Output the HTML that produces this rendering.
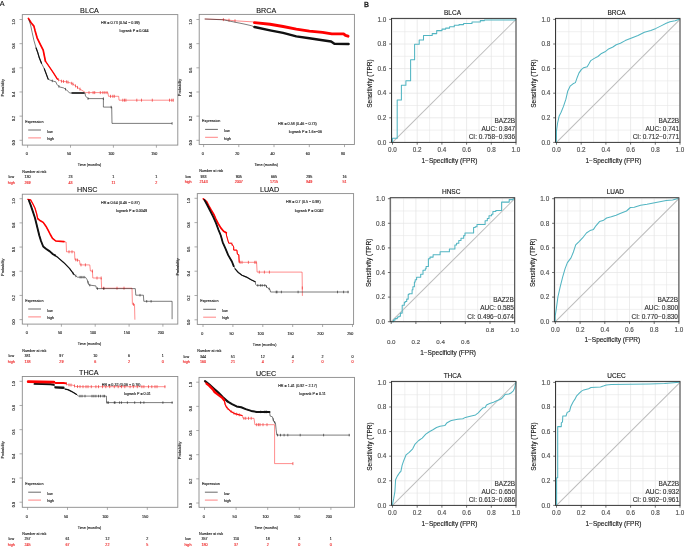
<!DOCTYPE html>
<html><head><meta charset="utf-8"><title>Figure</title>
<style>
html,body{margin:0;padding:0;background:#fff;width:685px;height:547px;overflow:hidden}
svg{display:block;font-family:"Liberation Sans", sans-serif;will-change:transform}
</style></head>
<body>
<svg width="685" height="547" viewBox="0 0 685 547">
<rect width="685" height="547" fill="#fff"/>
<text x="89.5" y="13" font-size="7.2" text-anchor="middle" fill="#111" stroke="#111" stroke-width="0.1">BLCA</text>
<rect x="22.3" y="14.6" width="155.5" height="130.5" fill="none" stroke="#8a8a8a" stroke-width="0.9"/>
<line x1="19.5" y1="140.3" x2="22.3" y2="140.3" stroke="#8a8a8a" stroke-width="0.7"/>
<text transform="translate(15.32 142.7) rotate(-90)" font-size="3.7" text-anchor="middle" fill="#1a1a1a" stroke="#1a1a1a" stroke-width="0.12">0.0</text>
<line x1="19.5" y1="116.14" x2="22.3" y2="116.14" stroke="#8a8a8a" stroke-width="0.7"/>
<text transform="translate(15.32 118.54) rotate(-90)" font-size="3.7" text-anchor="middle" fill="#1a1a1a" stroke="#1a1a1a" stroke-width="0.12">0.2</text>
<line x1="19.5" y1="91.98" x2="22.3" y2="91.98" stroke="#8a8a8a" stroke-width="0.7"/>
<text transform="translate(15.32 94.38) rotate(-90)" font-size="3.7" text-anchor="middle" fill="#1a1a1a" stroke="#1a1a1a" stroke-width="0.12">0.4</text>
<line x1="19.5" y1="67.82" x2="22.3" y2="67.82" stroke="#8a8a8a" stroke-width="0.7"/>
<text transform="translate(15.32 70.22) rotate(-90)" font-size="3.7" text-anchor="middle" fill="#1a1a1a" stroke="#1a1a1a" stroke-width="0.12">0.6</text>
<line x1="19.5" y1="43.66" x2="22.3" y2="43.66" stroke="#8a8a8a" stroke-width="0.7"/>
<text transform="translate(15.32 46.06) rotate(-90)" font-size="3.7" text-anchor="middle" fill="#1a1a1a" stroke="#1a1a1a" stroke-width="0.12">0.8</text>
<line x1="19.5" y1="19.5" x2="22.3" y2="19.5" stroke="#8a8a8a" stroke-width="0.7"/>
<text transform="translate(15.32 21.9) rotate(-90)" font-size="3.7" text-anchor="middle" fill="#1a1a1a" stroke="#1a1a1a" stroke-width="0.12">1.0</text>
<text transform="translate(4.12 87.85) rotate(-90)" font-size="3.7" text-anchor="middle" fill="#1a1a1a" stroke="#1a1a1a" stroke-width="0.12">Probability</text>
<line x1="27.6" y1="145.1" x2="27.6" y2="147.7" stroke="#8a8a8a" stroke-width="0.7"/>
<text x="26.88" y="155.42" font-size="3.7" text-anchor="middle" fill="#1a1a1a" stroke="#1a1a1a" stroke-width="0.12">0</text>
<line x1="70.5" y1="145.1" x2="70.5" y2="147.7" stroke="#8a8a8a" stroke-width="0.7"/>
<text x="69.06" y="155.42" font-size="3.7" text-anchor="middle" fill="#1a1a1a" stroke="#1a1a1a" stroke-width="0.12">50</text>
<line x1="113.4" y1="145.1" x2="113.4" y2="147.7" stroke="#8a8a8a" stroke-width="0.7"/>
<text x="111.24" y="155.42" font-size="3.7" text-anchor="middle" fill="#1a1a1a" stroke="#1a1a1a" stroke-width="0.12">100</text>
<line x1="156.4" y1="145.1" x2="156.4" y2="147.7" stroke="#8a8a8a" stroke-width="0.7"/>
<text x="154.24" y="155.42" font-size="3.7" text-anchor="middle" fill="#1a1a1a" stroke="#1a1a1a" stroke-width="0.12">150</text>
<text x="89.45" y="166.42" font-size="3.7" text-anchor="middle" fill="#1a1a1a" stroke="#1a1a1a" stroke-width="0.12">Time (months)</text>
<text x="101" y="24.02" font-size="3.7" fill="#1a1a1a" stroke="#1a1a1a" stroke-width="0.12">HR = 0.73 (0.54 − 0.99)</text>
<text x="119.6" y="32.32" font-size="3.7" fill="#1a1a1a" stroke="#1a1a1a" stroke-width="0.12">logrank P = 0.044</text>
<text x="25.2" y="122.72" font-size="3.7" fill="#1a1a1a" stroke="#1a1a1a" stroke-width="0.12">Expression</text>
<line x1="28.2" y1="130" x2="41" y2="130" stroke="#444" stroke-width="0.8"/>
<line x1="28.2" y1="137.9" x2="41" y2="137.9" stroke="#f66" stroke-width="0.8"/>
<text x="47.2" y="132.62" font-size="3.7" fill="#1a1a1a" stroke="#1a1a1a" stroke-width="0.12">low</text>
<text x="47.2" y="140.12" font-size="3.7" fill="#1a1a1a" stroke="#1a1a1a" stroke-width="0.12">high</text>
<text x="22.3" y="172.62" font-size="3.7" fill="#1a1a1a" stroke="#1a1a1a" stroke-width="0.12">Number at risk</text>
<text x="11.3" y="178.22" font-size="3.7" text-anchor="middle" fill="#1a1a1a" stroke="#1a1a1a" stroke-width="0.12">low</text>
<text x="11.3" y="183.92" font-size="3.7" text-anchor="middle" fill="#e22" stroke="#e22" stroke-width="0.12">high</text>
<text x="27.6" y="178.22" font-size="3.7" text-anchor="middle" fill="#1a1a1a" stroke="#1a1a1a" stroke-width="0.12">130</text>
<text x="27.6" y="183.92" font-size="3.7" text-anchor="middle" fill="#e22" stroke="#e22" stroke-width="0.12">269</text>
<text x="70.5" y="178.22" font-size="3.7" text-anchor="middle" fill="#1a1a1a" stroke="#1a1a1a" stroke-width="0.12">23</text>
<text x="70.5" y="183.92" font-size="3.7" text-anchor="middle" fill="#e22" stroke="#e22" stroke-width="0.12">43</text>
<text x="113.4" y="178.22" font-size="3.7" text-anchor="middle" fill="#1a1a1a" stroke="#1a1a1a" stroke-width="0.12">1</text>
<text x="113.4" y="183.92" font-size="3.7" text-anchor="middle" fill="#e22" stroke="#e22" stroke-width="0.12">11</text>
<text x="156.4" y="178.22" font-size="3.7" text-anchor="middle" fill="#1a1a1a" stroke="#1a1a1a" stroke-width="0.12">1</text>
<text x="156.4" y="183.92" font-size="3.7" text-anchor="middle" fill="#e22" stroke="#e22" stroke-width="0.12">2</text>
<polyline points="28.4,18.4 31.1,22.8 33.9,26.1 35,30.4 37.2,38.1 40.4,44.7 43.2,50.2 44.3,55.6 45.4,61.1 49.2,66.6 53.6,73.2 57.4,79.2 61.5,81.2 66.6,81.8 71.7,83.3 74.7,85.3 78.8,88.4 82.9,90.9 85.5,92.6 107.9,92.6 108.5,96.3 118.7,96.3 119,100.2 173.3,100.2" fill="none" stroke="#f00" stroke-width="0.45" stroke-linejoin="round" />
<polyline points="28.4,18.4 31.1,22.8 33.9,26.1 35,30.4 37.2,38.1 40.4,44.7 43.2,50.2 44.3,55.6 45.4,61.1" fill="none" stroke="#f00" stroke-width="1.7" stroke-linejoin="round" stroke-linecap="round"/>
<polyline points="45.4,61.1 49.2,66.6 53.6,73.2 57.4,79.2" fill="none" stroke="#f00" stroke-width="1.3" stroke-linejoin="round" stroke-linecap="round"/>
<line x1="58.5" y1="78.24" x2="58.5" y2="81.24" stroke="#e33" stroke-width="0.7"/>
<line x1="61.5" y1="79.7" x2="61.5" y2="82.7" stroke="#e33" stroke-width="0.7"/>
<line x1="63.5" y1="79.94" x2="63.5" y2="82.94" stroke="#e33" stroke-width="0.7"/>
<line x1="66.6" y1="80.3" x2="66.6" y2="83.3" stroke="#e33" stroke-width="0.7"/>
<line x1="68" y1="80.71" x2="68" y2="83.71" stroke="#e33" stroke-width="0.7"/>
<line x1="71.7" y1="81.8" x2="71.7" y2="84.8" stroke="#e33" stroke-width="0.7"/>
<line x1="73" y1="82.67" x2="73" y2="85.67" stroke="#e33" stroke-width="0.7"/>
<line x1="75.5" y1="84.4" x2="75.5" y2="87.4" stroke="#e33" stroke-width="0.7"/>
<line x1="77.5" y1="85.92" x2="77.5" y2="88.92" stroke="#e33" stroke-width="0.7"/>
<line x1="80" y1="87.63" x2="80" y2="90.63" stroke="#e33" stroke-width="0.7"/>
<line x1="89" y1="91.1" x2="89" y2="94.1" stroke="#e33" stroke-width="0.7"/>
<line x1="93.1" y1="91.1" x2="93.1" y2="94.1" stroke="#e33" stroke-width="0.7"/>
<line x1="94.7" y1="91.1" x2="94.7" y2="94.1" stroke="#e33" stroke-width="0.7"/>
<line x1="100.3" y1="91.1" x2="100.3" y2="94.1" stroke="#e33" stroke-width="0.7"/>
<line x1="102.9" y1="91.1" x2="102.9" y2="94.1" stroke="#e33" stroke-width="0.7"/>
<line x1="104.9" y1="91.1" x2="104.9" y2="94.1" stroke="#e33" stroke-width="0.7"/>
<line x1="107" y1="91.1" x2="107" y2="94.1" stroke="#e33" stroke-width="0.7"/>
<line x1="110.5" y1="94.8" x2="110.5" y2="97.8" stroke="#e33" stroke-width="0.7"/>
<line x1="112.8" y1="94.8" x2="112.8" y2="97.8" stroke="#e33" stroke-width="0.7"/>
<line x1="114.3" y1="94.8" x2="114.3" y2="97.8" stroke="#e33" stroke-width="0.7"/>
<line x1="122.8" y1="98.7" x2="122.8" y2="101.7" stroke="#e33" stroke-width="0.7"/>
<line x1="124.5" y1="98.7" x2="124.5" y2="101.7" stroke="#e33" stroke-width="0.7"/>
<line x1="125.9" y1="98.7" x2="125.9" y2="101.7" stroke="#e33" stroke-width="0.7"/>
<line x1="136.8" y1="98.7" x2="136.8" y2="101.7" stroke="#e33" stroke-width="0.7"/>
<line x1="141.5" y1="98.7" x2="141.5" y2="101.7" stroke="#e33" stroke-width="0.7"/>
<line x1="152.3" y1="98.7" x2="152.3" y2="101.7" stroke="#e33" stroke-width="0.7"/>
<line x1="169.5" y1="98.7" x2="169.5" y2="101.7" stroke="#e33" stroke-width="0.7"/>
<line x1="171.8" y1="98.7" x2="171.8" y2="101.7" stroke="#e33" stroke-width="0.7"/>
<line x1="173.3" y1="98.7" x2="173.3" y2="101.7" stroke="#e33" stroke-width="0.7"/>
<polyline points="28.8,19.5 30.6,25 32.2,32.6 33.9,40.3 36.1,48 37.7,52.4 39.3,57.8 41.5,63.3 44.3,68.8 45.5,72 48.2,79.2 50.2,80.2 53.3,81.2 55.8,81.8 56.9,84.3 59.4,86.9 63.5,87.9 66.6,89.9 69.6,93 85,93 85.5,96 88,98.6 103.4,98.6 103.4,107.1 111.7,107.1 112,123.4 172.1,123.4" fill="none" stroke="#111" stroke-width="0.55" stroke-linejoin="round" />
<polyline points="36.1,48 37.7,52.4 39.3,57.8 41.5,63.3" fill="none" stroke="#111" stroke-width="1.2" stroke-linejoin="round" stroke-linecap="round"/>
<polyline points="44.3,68.8 45.5,72 48.2,79.2" fill="none" stroke="#111" stroke-width="1.1" stroke-linejoin="round" stroke-linecap="round"/>
<polyline points="72,93 84,93" fill="none" stroke="#111" stroke-width="1.4" stroke-linejoin="round" stroke-linecap="round"/>
<line x1="52.3" y1="79.58" x2="52.3" y2="82.18" stroke="#111" stroke-width="0.55"/>
<line x1="58.9" y1="85.08" x2="58.9" y2="87.68" stroke="#111" stroke-width="0.55"/>
<line x1="65.5" y1="87.89" x2="65.5" y2="90.49" stroke="#111" stroke-width="0.55"/>
<line x1="88" y1="97.3" x2="88" y2="99.9" stroke="#111" stroke-width="0.55"/>
<line x1="103.4" y1="97.3" x2="103.4" y2="99.9" stroke="#111" stroke-width="0.55"/>
<line x1="111.2" y1="105.8" x2="111.2" y2="108.4" stroke="#111" stroke-width="0.55"/>
<line x1="172.1" y1="122.1" x2="172.1" y2="124.7" stroke="#111" stroke-width="0.55"/>
<text x="266.3" y="13" font-size="7.2" text-anchor="middle" fill="#111" stroke="#111" stroke-width="0.1">BRCA</text>
<rect x="199.2" y="14.4" width="155.2" height="130.1" fill="none" stroke="#8a8a8a" stroke-width="0.9"/>
<line x1="196.4" y1="140.3" x2="199.2" y2="140.3" stroke="#8a8a8a" stroke-width="0.7"/>
<text transform="translate(192.22 142.7) rotate(-90)" font-size="3.7" text-anchor="middle" fill="#1a1a1a" stroke="#1a1a1a" stroke-width="0.12">0.0</text>
<line x1="196.4" y1="116.14" x2="199.2" y2="116.14" stroke="#8a8a8a" stroke-width="0.7"/>
<text transform="translate(192.22 118.54) rotate(-90)" font-size="3.7" text-anchor="middle" fill="#1a1a1a" stroke="#1a1a1a" stroke-width="0.12">0.2</text>
<line x1="196.4" y1="91.98" x2="199.2" y2="91.98" stroke="#8a8a8a" stroke-width="0.7"/>
<text transform="translate(192.22 94.38) rotate(-90)" font-size="3.7" text-anchor="middle" fill="#1a1a1a" stroke="#1a1a1a" stroke-width="0.12">0.4</text>
<line x1="196.4" y1="67.82" x2="199.2" y2="67.82" stroke="#8a8a8a" stroke-width="0.7"/>
<text transform="translate(192.22 70.22) rotate(-90)" font-size="3.7" text-anchor="middle" fill="#1a1a1a" stroke="#1a1a1a" stroke-width="0.12">0.6</text>
<line x1="196.4" y1="43.66" x2="199.2" y2="43.66" stroke="#8a8a8a" stroke-width="0.7"/>
<text transform="translate(192.22 46.06) rotate(-90)" font-size="3.7" text-anchor="middle" fill="#1a1a1a" stroke="#1a1a1a" stroke-width="0.12">0.8</text>
<line x1="196.4" y1="19.5" x2="199.2" y2="19.5" stroke="#8a8a8a" stroke-width="0.7"/>
<text transform="translate(192.22 21.9) rotate(-90)" font-size="3.7" text-anchor="middle" fill="#1a1a1a" stroke="#1a1a1a" stroke-width="0.12">1.0</text>
<text transform="translate(181.02 87.45) rotate(-90)" font-size="3.7" text-anchor="middle" fill="#1a1a1a" stroke="#1a1a1a" stroke-width="0.12">Probability</text>
<line x1="203.6" y1="144.5" x2="203.6" y2="147.1" stroke="#8a8a8a" stroke-width="0.7"/>
<text x="202.88" y="154.82" font-size="3.7" text-anchor="middle" fill="#1a1a1a" stroke="#1a1a1a" stroke-width="0.12">0</text>
<line x1="238.8" y1="144.5" x2="238.8" y2="147.1" stroke="#8a8a8a" stroke-width="0.7"/>
<text x="237.36" y="154.82" font-size="3.7" text-anchor="middle" fill="#1a1a1a" stroke="#1a1a1a" stroke-width="0.12">20</text>
<line x1="274" y1="144.5" x2="274" y2="147.1" stroke="#8a8a8a" stroke-width="0.7"/>
<text x="272.56" y="154.82" font-size="3.7" text-anchor="middle" fill="#1a1a1a" stroke="#1a1a1a" stroke-width="0.12">40</text>
<line x1="309.3" y1="144.5" x2="309.3" y2="147.1" stroke="#8a8a8a" stroke-width="0.7"/>
<text x="307.86" y="154.82" font-size="3.7" text-anchor="middle" fill="#1a1a1a" stroke="#1a1a1a" stroke-width="0.12">60</text>
<line x1="344.5" y1="144.5" x2="344.5" y2="147.1" stroke="#8a8a8a" stroke-width="0.7"/>
<text x="343.06" y="154.82" font-size="3.7" text-anchor="middle" fill="#1a1a1a" stroke="#1a1a1a" stroke-width="0.12">80</text>
<text x="266.2" y="165.82" font-size="3.7" text-anchor="middle" fill="#1a1a1a" stroke="#1a1a1a" stroke-width="0.12">Time (months)</text>
<text x="278.1" y="124.82" font-size="3.7" fill="#1a1a1a" stroke="#1a1a1a" stroke-width="0.12">HR = 0.58 (0.46 − 0.73)</text>
<text x="288.8" y="132.92" font-size="3.7" fill="#1a1a1a" stroke="#1a1a1a" stroke-width="0.12">logrank P = 1.6e−06</text>
<text x="202.1" y="122.12" font-size="3.7" fill="#1a1a1a" stroke="#1a1a1a" stroke-width="0.12">Expression</text>
<line x1="205.1" y1="129.4" x2="217.9" y2="129.4" stroke="#444" stroke-width="0.8"/>
<line x1="205.1" y1="137.3" x2="217.9" y2="137.3" stroke="#f66" stroke-width="0.8"/>
<text x="224.1" y="132.02" font-size="3.7" fill="#1a1a1a" stroke="#1a1a1a" stroke-width="0.12">low</text>
<text x="224.1" y="139.52" font-size="3.7" fill="#1a1a1a" stroke="#1a1a1a" stroke-width="0.12">high</text>
<text x="199.2" y="172.02" font-size="3.7" fill="#1a1a1a" stroke="#1a1a1a" stroke-width="0.12">Number at risk</text>
<text x="188.2" y="177.62" font-size="3.7" text-anchor="middle" fill="#1a1a1a" stroke="#1a1a1a" stroke-width="0.12">low</text>
<text x="188.2" y="183.32" font-size="3.7" text-anchor="middle" fill="#e22" stroke="#e22" stroke-width="0.12">high</text>
<text x="203.6" y="177.62" font-size="3.7" text-anchor="middle" fill="#1a1a1a" stroke="#1a1a1a" stroke-width="0.12">933</text>
<text x="203.6" y="183.32" font-size="3.7" text-anchor="middle" fill="#e22" stroke="#e22" stroke-width="0.12">2143</text>
<text x="238.8" y="177.62" font-size="3.7" text-anchor="middle" fill="#1a1a1a" stroke="#1a1a1a" stroke-width="0.12">905</text>
<text x="238.8" y="183.32" font-size="3.7" text-anchor="middle" fill="#e22" stroke="#e22" stroke-width="0.12">2007</text>
<text x="274" y="177.62" font-size="3.7" text-anchor="middle" fill="#1a1a1a" stroke="#1a1a1a" stroke-width="0.12">665</text>
<text x="274" y="183.32" font-size="3.7" text-anchor="middle" fill="#e22" stroke="#e22" stroke-width="0.12">1715</text>
<text x="309.3" y="177.62" font-size="3.7" text-anchor="middle" fill="#1a1a1a" stroke="#1a1a1a" stroke-width="0.12">295</text>
<text x="309.3" y="183.32" font-size="3.7" text-anchor="middle" fill="#e22" stroke="#e22" stroke-width="0.12">849</text>
<text x="344.5" y="177.62" font-size="3.7" text-anchor="middle" fill="#1a1a1a" stroke="#1a1a1a" stroke-width="0.12">16</text>
<text x="344.5" y="183.32" font-size="3.7" text-anchor="middle" fill="#e22" stroke="#e22" stroke-width="0.12">51</text>
<polyline points="204.7,19 223.4,19.6 235,20.8 253.1,21.9 254.5,22.6 270,24.2 283.1,26.5 296.3,29.1 309.4,31.1 322.6,32.4 331.8,33.9 343.6,33.9 345.5,35.4 348,36.2" fill="none" stroke="#f00" stroke-width="0.45" stroke-linejoin="round" />
<polyline points="254.5,22.6 270,24.2 283.1,26.5 296.3,29.1 309.4,31.1 322.6,32.4 331.8,33.9 343.6,33.9 345.5,35.4 348,36.2" fill="none" stroke="#f00" stroke-width="2.9" stroke-linejoin="round" stroke-linecap="round"/>
<line x1="223.4" y1="18.1" x2="223.4" y2="21.1" stroke="#e33" stroke-width="0.7"/>
<line x1="229" y1="18.68" x2="229" y2="21.68" stroke="#e33" stroke-width="0.7"/>
<line x1="235" y1="19.3" x2="235" y2="22.3" stroke="#e33" stroke-width="0.7"/>
<polyline points="204.7,19 223.4,19.8 235,22.2 244,24 251.4,25.7 254.5,27 270,30.3 283.1,32.9 296.3,36.4 309.4,38.2 322.6,40.2 331.1,41.5 334.4,43.8 348.6,44" fill="none" stroke="#111" stroke-width="0.55" stroke-linejoin="round" />
<polyline points="254.5,27 270,30.3 283.1,32.9 296.3,36.4 309.4,38.2 322.6,40.2 331.1,41.5 334.4,43.8 348.6,44" fill="none" stroke="#111" stroke-width="2.4" stroke-linejoin="round" stroke-linecap="round"/>
<text x="87.2" y="192.3" font-size="7.2" text-anchor="middle" fill="#111" stroke="#111" stroke-width="0.1">HNSC</text>
<rect x="22.3" y="194.2" width="155.5" height="129.9" fill="none" stroke="#8a8a8a" stroke-width="0.9"/>
<line x1="19.5" y1="319.6" x2="22.3" y2="319.6" stroke="#8a8a8a" stroke-width="0.7"/>
<text transform="translate(15.32 322) rotate(-90)" font-size="3.7" text-anchor="middle" fill="#1a1a1a" stroke="#1a1a1a" stroke-width="0.12">0.0</text>
<line x1="19.5" y1="295.42" x2="22.3" y2="295.42" stroke="#8a8a8a" stroke-width="0.7"/>
<text transform="translate(15.32 297.82) rotate(-90)" font-size="3.7" text-anchor="middle" fill="#1a1a1a" stroke="#1a1a1a" stroke-width="0.12">0.2</text>
<line x1="19.5" y1="271.24" x2="22.3" y2="271.24" stroke="#8a8a8a" stroke-width="0.7"/>
<text transform="translate(15.32 273.64) rotate(-90)" font-size="3.7" text-anchor="middle" fill="#1a1a1a" stroke="#1a1a1a" stroke-width="0.12">0.4</text>
<line x1="19.5" y1="247.06" x2="22.3" y2="247.06" stroke="#8a8a8a" stroke-width="0.7"/>
<text transform="translate(15.32 249.46) rotate(-90)" font-size="3.7" text-anchor="middle" fill="#1a1a1a" stroke="#1a1a1a" stroke-width="0.12">0.6</text>
<line x1="19.5" y1="222.88" x2="22.3" y2="222.88" stroke="#8a8a8a" stroke-width="0.7"/>
<text transform="translate(15.32 225.28) rotate(-90)" font-size="3.7" text-anchor="middle" fill="#1a1a1a" stroke="#1a1a1a" stroke-width="0.12">0.8</text>
<line x1="19.5" y1="198.7" x2="22.3" y2="198.7" stroke="#8a8a8a" stroke-width="0.7"/>
<text transform="translate(15.32 201.1) rotate(-90)" font-size="3.7" text-anchor="middle" fill="#1a1a1a" stroke="#1a1a1a" stroke-width="0.12">1.0</text>
<text transform="translate(4.12 267.15) rotate(-90)" font-size="3.7" text-anchor="middle" fill="#1a1a1a" stroke="#1a1a1a" stroke-width="0.12">Probability</text>
<line x1="27.6" y1="324.1" x2="27.6" y2="326.7" stroke="#8a8a8a" stroke-width="0.7"/>
<text x="26.88" y="334.42" font-size="3.7" text-anchor="middle" fill="#1a1a1a" stroke="#1a1a1a" stroke-width="0.12">0</text>
<line x1="61.4" y1="324.1" x2="61.4" y2="326.7" stroke="#8a8a8a" stroke-width="0.7"/>
<text x="59.96" y="334.42" font-size="3.7" text-anchor="middle" fill="#1a1a1a" stroke="#1a1a1a" stroke-width="0.12">50</text>
<line x1="95.2" y1="324.1" x2="95.2" y2="326.7" stroke="#8a8a8a" stroke-width="0.7"/>
<text x="93.04" y="334.42" font-size="3.7" text-anchor="middle" fill="#1a1a1a" stroke="#1a1a1a" stroke-width="0.12">100</text>
<line x1="129.1" y1="324.1" x2="129.1" y2="326.7" stroke="#8a8a8a" stroke-width="0.7"/>
<text x="126.94" y="334.42" font-size="3.7" text-anchor="middle" fill="#1a1a1a" stroke="#1a1a1a" stroke-width="0.12">150</text>
<line x1="162.9" y1="324.1" x2="162.9" y2="326.7" stroke="#8a8a8a" stroke-width="0.7"/>
<text x="160.74" y="334.42" font-size="3.7" text-anchor="middle" fill="#1a1a1a" stroke="#1a1a1a" stroke-width="0.12">200</text>
<text x="89.45" y="345.42" font-size="3.7" text-anchor="middle" fill="#1a1a1a" stroke="#1a1a1a" stroke-width="0.12">Time (months)</text>
<text x="101" y="203.52" font-size="3.7" fill="#1a1a1a" stroke="#1a1a1a" stroke-width="0.12">HR = 0.64 (0.46 − 0.87)</text>
<text x="116" y="211.92" font-size="3.7" fill="#1a1a1a" stroke="#1a1a1a" stroke-width="0.12">logrank P = 0.0049</text>
<text x="25.2" y="301.72" font-size="3.7" fill="#1a1a1a" stroke="#1a1a1a" stroke-width="0.12">Expression</text>
<line x1="28.2" y1="309" x2="41" y2="309" stroke="#444" stroke-width="0.8"/>
<line x1="28.2" y1="316.9" x2="41" y2="316.9" stroke="#f66" stroke-width="0.8"/>
<text x="47.2" y="311.62" font-size="3.7" fill="#1a1a1a" stroke="#1a1a1a" stroke-width="0.12">low</text>
<text x="47.2" y="319.12" font-size="3.7" fill="#1a1a1a" stroke="#1a1a1a" stroke-width="0.12">high</text>
<text x="22.3" y="351.62" font-size="3.7" fill="#1a1a1a" stroke="#1a1a1a" stroke-width="0.12">Number at risk</text>
<text x="11.3" y="357.22" font-size="3.7" text-anchor="middle" fill="#1a1a1a" stroke="#1a1a1a" stroke-width="0.12">low</text>
<text x="11.3" y="362.92" font-size="3.7" text-anchor="middle" fill="#e22" stroke="#e22" stroke-width="0.12">high</text>
<text x="27.6" y="357.22" font-size="3.7" text-anchor="middle" fill="#1a1a1a" stroke="#1a1a1a" stroke-width="0.12">381</text>
<text x="27.6" y="362.92" font-size="3.7" text-anchor="middle" fill="#e22" stroke="#e22" stroke-width="0.12">138</text>
<text x="61.4" y="357.22" font-size="3.7" text-anchor="middle" fill="#1a1a1a" stroke="#1a1a1a" stroke-width="0.12">97</text>
<text x="61.4" y="362.92" font-size="3.7" text-anchor="middle" fill="#e22" stroke="#e22" stroke-width="0.12">29</text>
<text x="95.2" y="357.22" font-size="3.7" text-anchor="middle" fill="#1a1a1a" stroke="#1a1a1a" stroke-width="0.12">10</text>
<text x="95.2" y="362.92" font-size="3.7" text-anchor="middle" fill="#e22" stroke="#e22" stroke-width="0.12">6</text>
<text x="129.1" y="357.22" font-size="3.7" text-anchor="middle" fill="#1a1a1a" stroke="#1a1a1a" stroke-width="0.12">6</text>
<text x="129.1" y="362.92" font-size="3.7" text-anchor="middle" fill="#e22" stroke="#e22" stroke-width="0.12">2</text>
<text x="162.9" y="357.22" font-size="3.7" text-anchor="middle" fill="#1a1a1a" stroke="#1a1a1a" stroke-width="0.12">1</text>
<text x="162.9" y="362.92" font-size="3.7" text-anchor="middle" fill="#e22" stroke="#e22" stroke-width="0.12">0</text>
<polyline points="27.8,199.4 30.6,199.9 32.8,203.8 35,208.2 36.6,213.6 37.7,218.6 40.4,220.8 43.2,222.4 45.9,226.2 48.1,230.1 50.3,234.5 52.5,238.3 55.8,241 64,241.6 66.1,242 66.5,251.8 74.5,251.8 74.9,259.6 79.5,260.5 80.1,264.9 89.8,264.9 90.4,271 92.4,271 92.8,278 101.2,278 101.6,288.2 132,288.2 132.4,304.3 134.5,304.3 134.9,319.7" fill="none" stroke="#f00" stroke-width="0.45" stroke-linejoin="round" />
<polyline points="27.8,199.4 30.6,199.9 32.8,203.8 35,208.2 36.6,213.6 37.7,218.6" fill="none" stroke="#f00" stroke-width="1.3" stroke-linejoin="round" stroke-linecap="round"/>
<polyline points="37.7,218.6 40.4,220.8 43.2,222.4 45.9,226.2 48.1,230.1 50.3,234.5 52.5,238.3 55.8,241 64,241.6" fill="none" stroke="#f00" stroke-width="1.6" stroke-linejoin="round" stroke-linecap="round"/>
<line x1="69" y1="250.3" x2="69" y2="253.3" stroke="#e33" stroke-width="0.7"/>
<line x1="72" y1="250.3" x2="72" y2="253.3" stroke="#e33" stroke-width="0.7"/>
<line x1="75.8" y1="258.28" x2="75.8" y2="261.28" stroke="#e33" stroke-width="0.7"/>
<line x1="77.5" y1="258.61" x2="77.5" y2="261.61" stroke="#e33" stroke-width="0.7"/>
<line x1="81" y1="263.4" x2="81" y2="266.4" stroke="#e33" stroke-width="0.7"/>
<line x1="85.4" y1="263.4" x2="85.4" y2="266.4" stroke="#e33" stroke-width="0.7"/>
<line x1="92.4" y1="269.5" x2="92.4" y2="272.5" stroke="#e33" stroke-width="0.7"/>
<line x1="97" y1="276.5" x2="97" y2="279.5" stroke="#e33" stroke-width="0.7"/>
<line x1="101.2" y1="276.5" x2="101.2" y2="279.5" stroke="#e33" stroke-width="0.7"/>
<line x1="103.8" y1="286.7" x2="103.8" y2="289.7" stroke="#e33" stroke-width="0.7"/>
<line x1="117" y1="286.7" x2="117" y2="289.7" stroke="#e33" stroke-width="0.7"/>
<line x1="124" y1="286.7" x2="124" y2="289.7" stroke="#e33" stroke-width="0.7"/>
<line x1="133.5" y1="302.8" x2="133.5" y2="305.8" stroke="#e33" stroke-width="0.7"/>
<polyline points="28.9,200.5 30.6,204.9 32.8,211.4 35,218 36.1,222.4 37.7,229 39.3,235.5 41,241 43.2,246.5 45.9,248.7 49.8,251.4 53,254.2 55.1,255.4 58,257.6 63.9,262.7 69.7,268.6 74,274.5 77.5,277.2 85.4,277.2 87.2,279.8 88.9,285 95.9,285.9 96.5,288.6 102,288.6 135.3,288.6 135.8,295.2 143.4,295.2 143.8,301.3 172.1,301.3 172.1,319.2" fill="none" stroke="#111" stroke-width="0.55" stroke-linejoin="round" />
<polyline points="28.9,200.5 30.6,204.9 32.8,211.4 35,218 36.1,222.4 37.7,229 39.3,235.5 41,241 43.2,246.5 45.9,248.7 49.8,251.4 53,254.2 55.1,255.4" fill="none" stroke="#111" stroke-width="1.9" stroke-linejoin="round" stroke-linecap="round"/>
<polyline points="55.1,255.4 58,257.6 63.9,262.7 69.7,268.6 74,274.5" fill="none" stroke="#111" stroke-width="1.2" stroke-linejoin="round" stroke-linecap="round"/>
<line x1="73.1" y1="271.97" x2="73.1" y2="274.57" stroke="#111" stroke-width="0.55"/>
<line x1="75.8" y1="274.59" x2="75.8" y2="277.19" stroke="#111" stroke-width="0.55"/>
<line x1="80.1" y1="275.9" x2="80.1" y2="278.5" stroke="#111" stroke-width="0.55"/>
<line x1="81.9" y1="275.9" x2="81.9" y2="278.5" stroke="#111" stroke-width="0.55"/>
<line x1="84" y1="275.9" x2="84" y2="278.5" stroke="#111" stroke-width="0.55"/>
<line x1="88" y1="280.95" x2="88" y2="283.55" stroke="#111" stroke-width="0.55"/>
<line x1="89.8" y1="283.82" x2="89.8" y2="286.42" stroke="#111" stroke-width="0.55"/>
<line x1="97.5" y1="287.3" x2="97.5" y2="289.9" stroke="#111" stroke-width="0.55"/>
<line x1="103.8" y1="287.3" x2="103.8" y2="289.9" stroke="#111" stroke-width="0.55"/>
<line x1="140" y1="293.9" x2="140" y2="296.5" stroke="#111" stroke-width="0.55"/>
<line x1="146.7" y1="300" x2="146.7" y2="302.6" stroke="#111" stroke-width="0.55"/>
<line x1="151.1" y1="300" x2="151.1" y2="302.6" stroke="#111" stroke-width="0.55"/>
<text x="269.5" y="191.8" font-size="7.2" text-anchor="middle" fill="#111" stroke="#111" stroke-width="0.1">LUAD</text>
<rect x="197.3" y="193.6" width="156.3" height="130.8" fill="none" stroke="#8a8a8a" stroke-width="0.9"/>
<line x1="194.5" y1="319.8" x2="197.3" y2="319.8" stroke="#8a8a8a" stroke-width="0.7"/>
<text transform="translate(190.32 322.2) rotate(-90)" font-size="3.7" text-anchor="middle" fill="#1a1a1a" stroke="#1a1a1a" stroke-width="0.12">0.0</text>
<line x1="194.5" y1="295.5" x2="197.3" y2="295.5" stroke="#8a8a8a" stroke-width="0.7"/>
<text transform="translate(190.32 297.9) rotate(-90)" font-size="3.7" text-anchor="middle" fill="#1a1a1a" stroke="#1a1a1a" stroke-width="0.12">0.2</text>
<line x1="194.5" y1="271.2" x2="197.3" y2="271.2" stroke="#8a8a8a" stroke-width="0.7"/>
<text transform="translate(190.32 273.6) rotate(-90)" font-size="3.7" text-anchor="middle" fill="#1a1a1a" stroke="#1a1a1a" stroke-width="0.12">0.4</text>
<line x1="194.5" y1="246.9" x2="197.3" y2="246.9" stroke="#8a8a8a" stroke-width="0.7"/>
<text transform="translate(190.32 249.3) rotate(-90)" font-size="3.7" text-anchor="middle" fill="#1a1a1a" stroke="#1a1a1a" stroke-width="0.12">0.6</text>
<line x1="194.5" y1="222.6" x2="197.3" y2="222.6" stroke="#8a8a8a" stroke-width="0.7"/>
<text transform="translate(190.32 225) rotate(-90)" font-size="3.7" text-anchor="middle" fill="#1a1a1a" stroke="#1a1a1a" stroke-width="0.12">0.8</text>
<line x1="194.5" y1="198.3" x2="197.3" y2="198.3" stroke="#8a8a8a" stroke-width="0.7"/>
<text transform="translate(190.32 200.7) rotate(-90)" font-size="3.7" text-anchor="middle" fill="#1a1a1a" stroke="#1a1a1a" stroke-width="0.12">1.0</text>
<text transform="translate(179.12 267) rotate(-90)" font-size="3.7" text-anchor="middle" fill="#1a1a1a" stroke="#1a1a1a" stroke-width="0.12">Probability</text>
<line x1="203" y1="324.4" x2="203" y2="327" stroke="#8a8a8a" stroke-width="0.7"/>
<text x="202.28" y="334.72" font-size="3.7" text-anchor="middle" fill="#1a1a1a" stroke="#1a1a1a" stroke-width="0.12">0</text>
<line x1="232.9" y1="324.4" x2="232.9" y2="327" stroke="#8a8a8a" stroke-width="0.7"/>
<text x="231.46" y="334.72" font-size="3.7" text-anchor="middle" fill="#1a1a1a" stroke="#1a1a1a" stroke-width="0.12">50</text>
<line x1="262.8" y1="324.4" x2="262.8" y2="327" stroke="#8a8a8a" stroke-width="0.7"/>
<text x="260.64" y="334.72" font-size="3.7" text-anchor="middle" fill="#1a1a1a" stroke="#1a1a1a" stroke-width="0.12">100</text>
<line x1="292.7" y1="324.4" x2="292.7" y2="327" stroke="#8a8a8a" stroke-width="0.7"/>
<text x="290.54" y="334.72" font-size="3.7" text-anchor="middle" fill="#1a1a1a" stroke="#1a1a1a" stroke-width="0.12">150</text>
<line x1="322.6" y1="324.4" x2="322.6" y2="327" stroke="#8a8a8a" stroke-width="0.7"/>
<text x="320.44" y="334.72" font-size="3.7" text-anchor="middle" fill="#1a1a1a" stroke="#1a1a1a" stroke-width="0.12">200</text>
<line x1="352.5" y1="324.4" x2="352.5" y2="327" stroke="#8a8a8a" stroke-width="0.7"/>
<text x="350.34" y="334.72" font-size="3.7" text-anchor="middle" fill="#1a1a1a" stroke="#1a1a1a" stroke-width="0.12">250</text>
<text x="264.6" y="345.72" font-size="3.7" text-anchor="middle" fill="#1a1a1a" stroke="#1a1a1a" stroke-width="0.12">Time (months)</text>
<text x="286" y="202.82" font-size="3.7" fill="#1a1a1a" stroke="#1a1a1a" stroke-width="0.12">HR = 0.7 (0.5 − 0.98)</text>
<text x="294.7" y="211.92" font-size="3.7" fill="#1a1a1a" stroke="#1a1a1a" stroke-width="0.12">logrank P = 0.042</text>
<text x="200.2" y="302.02" font-size="3.7" fill="#1a1a1a" stroke="#1a1a1a" stroke-width="0.12">Expression</text>
<line x1="203.2" y1="309.3" x2="216" y2="309.3" stroke="#444" stroke-width="0.8"/>
<line x1="203.2" y1="317.2" x2="216" y2="317.2" stroke="#f66" stroke-width="0.8"/>
<text x="222.2" y="311.92" font-size="3.7" fill="#1a1a1a" stroke="#1a1a1a" stroke-width="0.12">low</text>
<text x="222.2" y="319.42" font-size="3.7" fill="#1a1a1a" stroke="#1a1a1a" stroke-width="0.12">high</text>
<text x="197.3" y="351.92" font-size="3.7" fill="#1a1a1a" stroke="#1a1a1a" stroke-width="0.12">Number at risk</text>
<text x="186.3" y="357.52" font-size="3.7" text-anchor="middle" fill="#1a1a1a" stroke="#1a1a1a" stroke-width="0.12">low</text>
<text x="186.3" y="363.22" font-size="3.7" text-anchor="middle" fill="#e22" stroke="#e22" stroke-width="0.12">high</text>
<text x="203" y="357.52" font-size="3.7" text-anchor="middle" fill="#1a1a1a" stroke="#1a1a1a" stroke-width="0.12">344</text>
<text x="203" y="363.22" font-size="3.7" text-anchor="middle" fill="#e22" stroke="#e22" stroke-width="0.12">160</text>
<text x="232.9" y="357.52" font-size="3.7" text-anchor="middle" fill="#1a1a1a" stroke="#1a1a1a" stroke-width="0.12">51</text>
<text x="232.9" y="363.22" font-size="3.7" text-anchor="middle" fill="#e22" stroke="#e22" stroke-width="0.12">21</text>
<text x="262.8" y="357.52" font-size="3.7" text-anchor="middle" fill="#1a1a1a" stroke="#1a1a1a" stroke-width="0.12">12</text>
<text x="262.8" y="363.22" font-size="3.7" text-anchor="middle" fill="#e22" stroke="#e22" stroke-width="0.12">4</text>
<text x="292.7" y="357.52" font-size="3.7" text-anchor="middle" fill="#1a1a1a" stroke="#1a1a1a" stroke-width="0.12">4</text>
<text x="292.7" y="363.22" font-size="3.7" text-anchor="middle" fill="#e22" stroke="#e22" stroke-width="0.12">2</text>
<text x="322.6" y="357.52" font-size="3.7" text-anchor="middle" fill="#1a1a1a" stroke="#1a1a1a" stroke-width="0.12">2</text>
<text x="322.6" y="363.22" font-size="3.7" text-anchor="middle" fill="#e22" stroke="#e22" stroke-width="0.12">0</text>
<text x="352.5" y="357.52" font-size="3.7" text-anchor="middle" fill="#1a1a1a" stroke="#1a1a1a" stroke-width="0.12">0</text>
<text x="352.5" y="363.22" font-size="3.7" text-anchor="middle" fill="#e22" stroke="#e22" stroke-width="0.12">0</text>
<polyline points="203.3,198.8 206.6,201.6 208.8,206 211,209.8 213.7,214.2 215.9,219.1 218.1,223.5 220.8,227.9 223.6,231.2 226.3,232.8 226.4,235 228.7,243.2 231.4,243.2 233.7,246.9 233.7,250.1 236.9,250.1 237.4,254.2 238.8,254.7 239.2,262.3 256.6,262.3 257.1,272.1 302.1,272.1 302.4,295.9" fill="none" stroke="#f00" stroke-width="0.45" stroke-linejoin="round" />
<polyline points="203.3,198.8 206.6,201.6 208.8,206 211,209.8 213.7,214.2 215.9,219.1 218.1,223.5 220.8,227.9 223.6,231.2 226.3,232.8" fill="none" stroke="#f00" stroke-width="1.7" stroke-linejoin="round" stroke-linecap="round"/>
<polyline points="226.3,232.8 226.4,235 228.7,243.2 231.4,243.2 233.7,246.9 233.7,250.1 236.9,250.1 237.4,254.2 238.8,254.7 239.2,262.3" fill="none" stroke="#f00" stroke-width="1" stroke-linejoin="round" stroke-linecap="round"/>
<line x1="231.9" y1="242.5" x2="231.9" y2="245.5" stroke="#e33" stroke-width="0.7"/>
<line x1="240.1" y1="260.8" x2="240.1" y2="263.8" stroke="#e33" stroke-width="0.7"/>
<line x1="242" y1="260.8" x2="242" y2="263.8" stroke="#e33" stroke-width="0.7"/>
<line x1="248.4" y1="260.8" x2="248.4" y2="263.8" stroke="#e33" stroke-width="0.7"/>
<line x1="254.8" y1="260.8" x2="254.8" y2="263.8" stroke="#e33" stroke-width="0.7"/>
<line x1="256.1" y1="260.8" x2="256.1" y2="263.8" stroke="#e33" stroke-width="0.7"/>
<line x1="259.3" y1="270.6" x2="259.3" y2="273.6" stroke="#e33" stroke-width="0.7"/>
<line x1="264.4" y1="270.6" x2="264.4" y2="273.6" stroke="#e33" stroke-width="0.7"/>
<line x1="269.4" y1="270.6" x2="269.4" y2="273.6" stroke="#e33" stroke-width="0.7"/>
<line x1="302.3" y1="286.47" x2="302.3" y2="289.47" stroke="#e33" stroke-width="0.7"/>
<polyline points="204.4,199.9 207.7,206 210.4,211.4 213.2,216.9 215.9,222.9 218.6,230.1 220.8,235.5 222.7,242.3 225.5,248.7 228.2,255.1 231.9,261.5 233.7,266.1 235.1,268.9 238.3,272.5 242,275.3 246.5,277.1 251.1,279.8 255.2,281.7 255.7,284.4 256.5,285.4 265.7,285.4 267.4,287.7 270,289.4 270.5,292 348.9,292" fill="none" stroke="#111" stroke-width="0.55" stroke-linejoin="round" />
<polyline points="204.4,199.9 207.7,206 210.4,211.4 213.2,216.9 215.9,222.9 218.6,230.1 220.8,235.5 222.7,242.3 225.5,248.7 228.2,255.1 231.9,261.5 233.7,266.1" fill="none" stroke="#111" stroke-width="1.8" stroke-linejoin="round" stroke-linecap="round"/>
<polyline points="235.1,268.9 238.3,272.5 242,275.3 246.5,277.1 251.1,279.8 255.2,281.7" fill="none" stroke="#111" stroke-width="1.2" stroke-linejoin="round" stroke-linecap="round"/>
<line x1="257.8" y1="284.1" x2="257.8" y2="286.7" stroke="#111" stroke-width="0.55"/>
<line x1="260.4" y1="284.1" x2="260.4" y2="286.7" stroke="#111" stroke-width="0.55"/>
<line x1="262.2" y1="284.1" x2="262.2" y2="286.7" stroke="#111" stroke-width="0.55"/>
<line x1="264.8" y1="284.1" x2="264.8" y2="286.7" stroke="#111" stroke-width="0.55"/>
<line x1="266.5" y1="285.18" x2="266.5" y2="287.78" stroke="#111" stroke-width="0.55"/>
<line x1="269.2" y1="287.58" x2="269.2" y2="290.18" stroke="#111" stroke-width="0.55"/>
<line x1="276.2" y1="290.7" x2="276.2" y2="293.3" stroke="#111" stroke-width="0.55"/>
<line x1="277" y1="290.7" x2="277" y2="293.3" stroke="#111" stroke-width="0.55"/>
<line x1="281.4" y1="290.7" x2="281.4" y2="293.3" stroke="#111" stroke-width="0.55"/>
<line x1="298.1" y1="290.7" x2="298.1" y2="293.3" stroke="#111" stroke-width="0.55"/>
<line x1="337.5" y1="290.7" x2="337.5" y2="293.3" stroke="#111" stroke-width="0.55"/>
<line x1="343.6" y1="290.7" x2="343.6" y2="293.3" stroke="#111" stroke-width="0.55"/>
<line x1="348" y1="290.7" x2="348" y2="293.3" stroke="#111" stroke-width="0.55"/>
<text x="88.8" y="375.1" font-size="7.2" text-anchor="middle" fill="#111" stroke="#111" stroke-width="0.1">THCA</text>
<rect x="22.3" y="376.5" width="155.5" height="130.8" fill="none" stroke="#8a8a8a" stroke-width="0.9"/>
<line x1="19.5" y1="502.2" x2="22.3" y2="502.2" stroke="#8a8a8a" stroke-width="0.7"/>
<text transform="translate(15.32 504.6) rotate(-90)" font-size="3.7" text-anchor="middle" fill="#1a1a1a" stroke="#1a1a1a" stroke-width="0.12">0.0</text>
<line x1="19.5" y1="478.02" x2="22.3" y2="478.02" stroke="#8a8a8a" stroke-width="0.7"/>
<text transform="translate(15.32 480.42) rotate(-90)" font-size="3.7" text-anchor="middle" fill="#1a1a1a" stroke="#1a1a1a" stroke-width="0.12">0.2</text>
<line x1="19.5" y1="453.84" x2="22.3" y2="453.84" stroke="#8a8a8a" stroke-width="0.7"/>
<text transform="translate(15.32 456.24) rotate(-90)" font-size="3.7" text-anchor="middle" fill="#1a1a1a" stroke="#1a1a1a" stroke-width="0.12">0.4</text>
<line x1="19.5" y1="429.66" x2="22.3" y2="429.66" stroke="#8a8a8a" stroke-width="0.7"/>
<text transform="translate(15.32 432.06) rotate(-90)" font-size="3.7" text-anchor="middle" fill="#1a1a1a" stroke="#1a1a1a" stroke-width="0.12">0.6</text>
<line x1="19.5" y1="405.48" x2="22.3" y2="405.48" stroke="#8a8a8a" stroke-width="0.7"/>
<text transform="translate(15.32 407.88) rotate(-90)" font-size="3.7" text-anchor="middle" fill="#1a1a1a" stroke="#1a1a1a" stroke-width="0.12">0.8</text>
<line x1="19.5" y1="381.3" x2="22.3" y2="381.3" stroke="#8a8a8a" stroke-width="0.7"/>
<text transform="translate(15.32 383.7) rotate(-90)" font-size="3.7" text-anchor="middle" fill="#1a1a1a" stroke="#1a1a1a" stroke-width="0.12">1.0</text>
<text transform="translate(4.12 449.9) rotate(-90)" font-size="3.7" text-anchor="middle" fill="#1a1a1a" stroke="#1a1a1a" stroke-width="0.12">Probability</text>
<line x1="27.6" y1="507.3" x2="27.6" y2="509.9" stroke="#8a8a8a" stroke-width="0.7"/>
<text x="26.88" y="517.62" font-size="3.7" text-anchor="middle" fill="#1a1a1a" stroke="#1a1a1a" stroke-width="0.12">0</text>
<line x1="67.5" y1="507.3" x2="67.5" y2="509.9" stroke="#8a8a8a" stroke-width="0.7"/>
<text x="66.06" y="517.62" font-size="3.7" text-anchor="middle" fill="#1a1a1a" stroke="#1a1a1a" stroke-width="0.12">50</text>
<line x1="107.4" y1="507.3" x2="107.4" y2="509.9" stroke="#8a8a8a" stroke-width="0.7"/>
<text x="105.24" y="517.62" font-size="3.7" text-anchor="middle" fill="#1a1a1a" stroke="#1a1a1a" stroke-width="0.12">100</text>
<line x1="147.3" y1="507.3" x2="147.3" y2="509.9" stroke="#8a8a8a" stroke-width="0.7"/>
<text x="145.14" y="517.62" font-size="3.7" text-anchor="middle" fill="#1a1a1a" stroke="#1a1a1a" stroke-width="0.12">150</text>
<text x="89.45" y="528.62" font-size="3.7" text-anchor="middle" fill="#1a1a1a" stroke="#1a1a1a" stroke-width="0.12">Time (months)</text>
<text x="101.8" y="386.22" font-size="3.7" fill="#1a1a1a" stroke="#1a1a1a" stroke-width="0.12">HR = 0.32 (0.06 − 0.76)</text>
<text x="123.9" y="394.72" font-size="3.7" fill="#1a1a1a" stroke="#1a1a1a" stroke-width="0.12">logrank P = 0.01</text>
<text x="25.2" y="484.92" font-size="3.7" fill="#1a1a1a" stroke="#1a1a1a" stroke-width="0.12">Expression</text>
<line x1="28.2" y1="492.2" x2="41" y2="492.2" stroke="#444" stroke-width="0.8"/>
<line x1="28.2" y1="500.1" x2="41" y2="500.1" stroke="#f66" stroke-width="0.8"/>
<text x="47.2" y="494.82" font-size="3.7" fill="#1a1a1a" stroke="#1a1a1a" stroke-width="0.12">low</text>
<text x="47.2" y="502.32" font-size="3.7" fill="#1a1a1a" stroke="#1a1a1a" stroke-width="0.12">high</text>
<text x="22.3" y="534.82" font-size="3.7" fill="#1a1a1a" stroke="#1a1a1a" stroke-width="0.12">Number at risk</text>
<text x="11.3" y="540.42" font-size="3.7" text-anchor="middle" fill="#1a1a1a" stroke="#1a1a1a" stroke-width="0.12">low</text>
<text x="11.3" y="546.12" font-size="3.7" text-anchor="middle" fill="#e22" stroke="#e22" stroke-width="0.12">high</text>
<text x="27.6" y="540.42" font-size="3.7" text-anchor="middle" fill="#1a1a1a" stroke="#1a1a1a" stroke-width="0.12">257</text>
<text x="27.6" y="546.12" font-size="3.7" text-anchor="middle" fill="#e22" stroke="#e22" stroke-width="0.12">245</text>
<text x="67.5" y="540.42" font-size="3.7" text-anchor="middle" fill="#1a1a1a" stroke="#1a1a1a" stroke-width="0.12">61</text>
<text x="67.5" y="546.12" font-size="3.7" text-anchor="middle" fill="#e22" stroke="#e22" stroke-width="0.12">67</text>
<text x="107.4" y="540.42" font-size="3.7" text-anchor="middle" fill="#1a1a1a" stroke="#1a1a1a" stroke-width="0.12">12</text>
<text x="107.4" y="546.12" font-size="3.7" text-anchor="middle" fill="#e22" stroke="#e22" stroke-width="0.12">22</text>
<text x="147.3" y="540.42" font-size="3.7" text-anchor="middle" fill="#1a1a1a" stroke="#1a1a1a" stroke-width="0.12">2</text>
<text x="147.3" y="546.12" font-size="3.7" text-anchor="middle" fill="#e22" stroke="#e22" stroke-width="0.12">5</text>
<polyline points="34.5,383.9 50.3,384.3 53.8,384.8 55.5,387.4 63.4,387.8 65.2,389.1 67.8,389.6 70.4,390.9 73,392.2 76.6,394.4 78.3,396.1 106.4,396.1 106.6,402.6 172.8,402.6" fill="none" stroke="#111" stroke-width="0.55" stroke-linejoin="round" />
<polyline points="34.5,383.9 50.3,384.3 53.8,384.8" fill="none" stroke="#111" stroke-width="1.9" stroke-linejoin="round" stroke-linecap="round"/>
<polyline points="55.5,387.4 63.4,387.8" fill="none" stroke="#111" stroke-width="2.4" stroke-linejoin="round" stroke-linecap="round"/>
<polyline points="65.2,389.1 67.8,389.6 70.4,390.9 73,392.2 76.6,394.4" fill="none" stroke="#111" stroke-width="1.2" stroke-linejoin="round" stroke-linecap="round"/>
<line x1="80" y1="394.8" x2="80" y2="397.4" stroke="#111" stroke-width="0.55"/>
<line x1="82" y1="394.8" x2="82" y2="397.4" stroke="#111" stroke-width="0.55"/>
<line x1="85" y1="394.8" x2="85" y2="397.4" stroke="#111" stroke-width="0.55"/>
<line x1="92" y1="394.8" x2="92" y2="397.4" stroke="#111" stroke-width="0.55"/>
<line x1="93.9" y1="394.8" x2="93.9" y2="397.4" stroke="#111" stroke-width="0.55"/>
<line x1="95.9" y1="394.8" x2="95.9" y2="397.4" stroke="#111" stroke-width="0.55"/>
<line x1="98.5" y1="394.8" x2="98.5" y2="397.4" stroke="#111" stroke-width="0.55"/>
<line x1="100.5" y1="394.8" x2="100.5" y2="397.4" stroke="#111" stroke-width="0.55"/>
<line x1="103.1" y1="394.8" x2="103.1" y2="397.4" stroke="#111" stroke-width="0.55"/>
<line x1="104.5" y1="394.8" x2="104.5" y2="397.4" stroke="#111" stroke-width="0.55"/>
<line x1="107.1" y1="401.3" x2="107.1" y2="403.9" stroke="#111" stroke-width="0.55"/>
<line x1="108.4" y1="401.3" x2="108.4" y2="403.9" stroke="#111" stroke-width="0.55"/>
<line x1="114.3" y1="401.3" x2="114.3" y2="403.9" stroke="#111" stroke-width="0.55"/>
<line x1="115" y1="401.3" x2="115" y2="403.9" stroke="#111" stroke-width="0.55"/>
<line x1="119.6" y1="401.3" x2="119.6" y2="403.9" stroke="#111" stroke-width="0.55"/>
<line x1="121.5" y1="401.3" x2="121.5" y2="403.9" stroke="#111" stroke-width="0.55"/>
<line x1="127.4" y1="401.3" x2="127.4" y2="403.9" stroke="#111" stroke-width="0.55"/>
<line x1="134.7" y1="401.3" x2="134.7" y2="403.9" stroke="#111" stroke-width="0.55"/>
<line x1="140.6" y1="401.3" x2="140.6" y2="403.9" stroke="#111" stroke-width="0.55"/>
<line x1="143.9" y1="401.3" x2="143.9" y2="403.9" stroke="#111" stroke-width="0.55"/>
<line x1="162.9" y1="401.3" x2="162.9" y2="403.9" stroke="#111" stroke-width="0.55"/>
<line x1="172.1" y1="401.3" x2="172.1" y2="403.9" stroke="#111" stroke-width="0.55"/>
<polyline points="27.5,381.7 53.8,382.1 55.5,383 63.4,383 66,383.4 67.8,384.8 73,385.2 75.7,386.5 84,386.7 165.5,386.7" fill="none" stroke="#f00" stroke-width="0.45" stroke-linejoin="round" />
<polyline points="28.2,381.7 53.8,382.1" fill="none" stroke="#f00" stroke-width="2.8" stroke-linejoin="round" stroke-linecap="round"/>
<polyline points="53.8,382.1 55.5,383 63.4,383 66,383.4" fill="none" stroke="#f00" stroke-width="1.8" stroke-linejoin="round" stroke-linecap="round"/>
<line x1="66.5" y1="382.29" x2="66.5" y2="385.29" stroke="#e33" stroke-width="0.7"/>
<line x1="69" y1="383.39" x2="69" y2="386.39" stroke="#e33" stroke-width="0.7"/>
<line x1="71" y1="383.55" x2="71" y2="386.55" stroke="#e33" stroke-width="0.7"/>
<line x1="74.5" y1="384.42" x2="74.5" y2="387.42" stroke="#e33" stroke-width="0.7"/>
<line x1="77.5" y1="385.04" x2="77.5" y2="388.04" stroke="#e33" stroke-width="0.7"/>
<line x1="80" y1="385.1" x2="80" y2="388.1" stroke="#e33" stroke-width="0.7"/>
<line x1="83" y1="385.18" x2="83" y2="388.18" stroke="#e33" stroke-width="0.7"/>
<line x1="86" y1="385.2" x2="86" y2="388.2" stroke="#e33" stroke-width="0.7"/>
<line x1="88" y1="385.2" x2="88" y2="388.2" stroke="#e33" stroke-width="0.7"/>
<line x1="91.3" y1="385.2" x2="91.3" y2="388.2" stroke="#e33" stroke-width="0.7"/>
<line x1="95.9" y1="385.2" x2="95.9" y2="388.2" stroke="#e33" stroke-width="0.7"/>
<line x1="98.5" y1="385.2" x2="98.5" y2="388.2" stroke="#e33" stroke-width="0.7"/>
<line x1="102.5" y1="385.2" x2="102.5" y2="388.2" stroke="#e33" stroke-width="0.7"/>
<line x1="105.8" y1="385.2" x2="105.8" y2="388.2" stroke="#e33" stroke-width="0.7"/>
<line x1="109.7" y1="385.2" x2="109.7" y2="388.2" stroke="#e33" stroke-width="0.7"/>
<line x1="114.3" y1="385.2" x2="114.3" y2="388.2" stroke="#e33" stroke-width="0.7"/>
<line x1="118.2" y1="385.2" x2="118.2" y2="388.2" stroke="#e33" stroke-width="0.7"/>
<line x1="121.5" y1="385.2" x2="121.5" y2="388.2" stroke="#e33" stroke-width="0.7"/>
<line x1="124.8" y1="385.2" x2="124.8" y2="388.2" stroke="#e33" stroke-width="0.7"/>
<line x1="130.1" y1="385.2" x2="130.1" y2="388.2" stroke="#e33" stroke-width="0.7"/>
<line x1="133.4" y1="385.2" x2="133.4" y2="388.2" stroke="#e33" stroke-width="0.7"/>
<line x1="137.3" y1="385.2" x2="137.3" y2="388.2" stroke="#e33" stroke-width="0.7"/>
<line x1="141.9" y1="385.2" x2="141.9" y2="388.2" stroke="#e33" stroke-width="0.7"/>
<line x1="143.9" y1="385.2" x2="143.9" y2="388.2" stroke="#e33" stroke-width="0.7"/>
<line x1="148.5" y1="385.2" x2="148.5" y2="388.2" stroke="#e33" stroke-width="0.7"/>
<line x1="151.8" y1="385.2" x2="151.8" y2="388.2" stroke="#e33" stroke-width="0.7"/>
<line x1="155" y1="385.2" x2="155" y2="388.2" stroke="#e33" stroke-width="0.7"/>
<line x1="157" y1="385.2" x2="157" y2="388.2" stroke="#e33" stroke-width="0.7"/>
<line x1="164.9" y1="385.2" x2="164.9" y2="388.2" stroke="#e33" stroke-width="0.7"/>
<text x="266.1" y="375.6" font-size="7.2" text-anchor="middle" fill="#111" stroke="#111" stroke-width="0.1">UCEC</text>
<rect x="199" y="377.4" width="155.5" height="129.9" fill="none" stroke="#8a8a8a" stroke-width="0.9"/>
<line x1="196.2" y1="503" x2="199" y2="503" stroke="#8a8a8a" stroke-width="0.7"/>
<text transform="translate(192.02 505.4) rotate(-90)" font-size="3.7" text-anchor="middle" fill="#1a1a1a" stroke="#1a1a1a" stroke-width="0.12">0.0</text>
<line x1="196.2" y1="478.84" x2="199" y2="478.84" stroke="#8a8a8a" stroke-width="0.7"/>
<text transform="translate(192.02 481.24) rotate(-90)" font-size="3.7" text-anchor="middle" fill="#1a1a1a" stroke="#1a1a1a" stroke-width="0.12">0.2</text>
<line x1="196.2" y1="454.68" x2="199" y2="454.68" stroke="#8a8a8a" stroke-width="0.7"/>
<text transform="translate(192.02 457.08) rotate(-90)" font-size="3.7" text-anchor="middle" fill="#1a1a1a" stroke="#1a1a1a" stroke-width="0.12">0.4</text>
<line x1="196.2" y1="430.52" x2="199" y2="430.52" stroke="#8a8a8a" stroke-width="0.7"/>
<text transform="translate(192.02 432.92) rotate(-90)" font-size="3.7" text-anchor="middle" fill="#1a1a1a" stroke="#1a1a1a" stroke-width="0.12">0.6</text>
<line x1="196.2" y1="406.36" x2="199" y2="406.36" stroke="#8a8a8a" stroke-width="0.7"/>
<text transform="translate(192.02 408.76) rotate(-90)" font-size="3.7" text-anchor="middle" fill="#1a1a1a" stroke="#1a1a1a" stroke-width="0.12">0.8</text>
<line x1="196.2" y1="382.2" x2="199" y2="382.2" stroke="#8a8a8a" stroke-width="0.7"/>
<text transform="translate(192.02 384.6) rotate(-90)" font-size="3.7" text-anchor="middle" fill="#1a1a1a" stroke="#1a1a1a" stroke-width="0.12">1.0</text>
<text transform="translate(180.82 450.35) rotate(-90)" font-size="3.7" text-anchor="middle" fill="#1a1a1a" stroke="#1a1a1a" stroke-width="0.12">Probability</text>
<line x1="204.5" y1="507.3" x2="204.5" y2="509.9" stroke="#8a8a8a" stroke-width="0.7"/>
<text x="203.78" y="517.62" font-size="3.7" text-anchor="middle" fill="#1a1a1a" stroke="#1a1a1a" stroke-width="0.12">0</text>
<line x1="236.1" y1="507.3" x2="236.1" y2="509.9" stroke="#8a8a8a" stroke-width="0.7"/>
<text x="234.66" y="517.62" font-size="3.7" text-anchor="middle" fill="#1a1a1a" stroke="#1a1a1a" stroke-width="0.12">50</text>
<line x1="267.7" y1="507.3" x2="267.7" y2="509.9" stroke="#8a8a8a" stroke-width="0.7"/>
<text x="265.54" y="517.62" font-size="3.7" text-anchor="middle" fill="#1a1a1a" stroke="#1a1a1a" stroke-width="0.12">100</text>
<line x1="299.3" y1="507.3" x2="299.3" y2="509.9" stroke="#8a8a8a" stroke-width="0.7"/>
<text x="297.14" y="517.62" font-size="3.7" text-anchor="middle" fill="#1a1a1a" stroke="#1a1a1a" stroke-width="0.12">150</text>
<line x1="330.9" y1="507.3" x2="330.9" y2="509.9" stroke="#8a8a8a" stroke-width="0.7"/>
<text x="328.74" y="517.62" font-size="3.7" text-anchor="middle" fill="#1a1a1a" stroke="#1a1a1a" stroke-width="0.12">200</text>
<text x="266.15" y="528.62" font-size="3.7" text-anchor="middle" fill="#1a1a1a" stroke="#1a1a1a" stroke-width="0.12">Time (months)</text>
<text x="278.2" y="386.72" font-size="3.7" fill="#1a1a1a" stroke="#1a1a1a" stroke-width="0.12">HR = 1.41 (0.92 − 2.17)</text>
<text x="299.3" y="394.92" font-size="3.7" fill="#1a1a1a" stroke="#1a1a1a" stroke-width="0.12">logrank P = 0.11</text>
<text x="201.9" y="484.92" font-size="3.7" fill="#1a1a1a" stroke="#1a1a1a" stroke-width="0.12">Expression</text>
<line x1="204.9" y1="492.2" x2="217.7" y2="492.2" stroke="#444" stroke-width="0.8"/>
<line x1="204.9" y1="500.1" x2="217.7" y2="500.1" stroke="#f66" stroke-width="0.8"/>
<text x="223.9" y="494.82" font-size="3.7" fill="#1a1a1a" stroke="#1a1a1a" stroke-width="0.12">low</text>
<text x="223.9" y="502.32" font-size="3.7" fill="#1a1a1a" stroke="#1a1a1a" stroke-width="0.12">high</text>
<text x="199" y="534.82" font-size="3.7" fill="#1a1a1a" stroke="#1a1a1a" stroke-width="0.12">Number at risk</text>
<text x="188" y="540.42" font-size="3.7" text-anchor="middle" fill="#1a1a1a" stroke="#1a1a1a" stroke-width="0.12">low</text>
<text x="188" y="546.12" font-size="3.7" text-anchor="middle" fill="#e22" stroke="#e22" stroke-width="0.12">high</text>
<text x="204.5" y="540.42" font-size="3.7" text-anchor="middle" fill="#1a1a1a" stroke="#1a1a1a" stroke-width="0.12">357</text>
<text x="204.5" y="546.12" font-size="3.7" text-anchor="middle" fill="#e22" stroke="#e22" stroke-width="0.12">180</text>
<text x="236.1" y="540.42" font-size="3.7" text-anchor="middle" fill="#1a1a1a" stroke="#1a1a1a" stroke-width="0.12">110</text>
<text x="236.1" y="546.12" font-size="3.7" text-anchor="middle" fill="#e22" stroke="#e22" stroke-width="0.12">37</text>
<text x="267.7" y="540.42" font-size="3.7" text-anchor="middle" fill="#1a1a1a" stroke="#1a1a1a" stroke-width="0.12">18</text>
<text x="267.7" y="546.12" font-size="3.7" text-anchor="middle" fill="#e22" stroke="#e22" stroke-width="0.12">2</text>
<text x="299.3" y="540.42" font-size="3.7" text-anchor="middle" fill="#1a1a1a" stroke="#1a1a1a" stroke-width="0.12">3</text>
<text x="299.3" y="546.12" font-size="3.7" text-anchor="middle" fill="#e22" stroke="#e22" stroke-width="0.12">0</text>
<text x="330.9" y="540.42" font-size="3.7" text-anchor="middle" fill="#1a1a1a" stroke="#1a1a1a" stroke-width="0.12">1</text>
<text x="330.9" y="546.12" font-size="3.7" text-anchor="middle" fill="#e22" stroke="#e22" stroke-width="0.12">0</text>
<polyline points="205,381.2 209.1,384.4 213.7,388.5 218.3,392.6 222.9,397.2 227.4,401.3 232,404.1 236.6,406.4 241.2,407.3 245.7,409.1 251.2,410.9 256.7,411.9 269.5,411.9 270.2,416.1 272.4,416.8 273.9,421.9 275.4,422.7 276.1,429.2 276.8,435.1 349.9,435.1" fill="none" stroke="#111" stroke-width="0.55" stroke-linejoin="round" />
<polyline points="205,381.2 209.1,384.4 213.7,388.5 218.3,392.6 222.9,397.2 227.4,401.3" fill="none" stroke="#111" stroke-width="2.2" stroke-linejoin="round" stroke-linecap="round"/>
<polyline points="227.4,401.3 232,404.1 236.6,406.4 241.2,407.3 245.7,409.1 251.2,410.9 256.7,411.9 269.5,411.9" fill="none" stroke="#111" stroke-width="2" stroke-linejoin="round" stroke-linecap="round"/>
<line x1="260.7" y1="410.6" x2="260.7" y2="413.2" stroke="#111" stroke-width="0.55"/>
<line x1="264.4" y1="410.6" x2="264.4" y2="413.2" stroke="#111" stroke-width="0.55"/>
<line x1="265.8" y1="410.6" x2="265.8" y2="413.2" stroke="#111" stroke-width="0.55"/>
<line x1="266.6" y1="410.6" x2="266.6" y2="413.2" stroke="#111" stroke-width="0.55"/>
<line x1="273.2" y1="418.22" x2="273.2" y2="420.82" stroke="#111" stroke-width="0.55"/>
<line x1="274.6" y1="420.97" x2="274.6" y2="423.57" stroke="#111" stroke-width="0.55"/>
<line x1="277.5" y1="433.8" x2="277.5" y2="436.4" stroke="#111" stroke-width="0.55"/>
<line x1="280.5" y1="433.8" x2="280.5" y2="436.4" stroke="#111" stroke-width="0.55"/>
<line x1="284.1" y1="433.8" x2="284.1" y2="436.4" stroke="#111" stroke-width="0.55"/>
<line x1="287.8" y1="433.8" x2="287.8" y2="436.4" stroke="#111" stroke-width="0.55"/>
<line x1="300.2" y1="433.8" x2="300.2" y2="436.4" stroke="#111" stroke-width="0.55"/>
<line x1="323.6" y1="433.8" x2="323.6" y2="436.4" stroke="#111" stroke-width="0.55"/>
<line x1="349.2" y1="433.8" x2="349.2" y2="436.4" stroke="#111" stroke-width="0.55"/>
<polyline points="204.6,381.7 209.1,385.3 212.8,389 214.6,391.7 218.3,394.5 222,397.2 224.2,400 225.2,404.5 226.5,407.3 230.2,410.9 234.8,413.7 238.4,414.6 242.1,415.5 243,418.3 254,418.3 254.9,424.7 274.6,424.7 274.6,463.6 292.9,463.6" fill="none" stroke="#f00" stroke-width="0.45" stroke-linejoin="round" />
<polyline points="206.5,383.6 209.1,385.6 212.8,389.4 214.6,392 218.3,394.8 222,397.6 224.2,400.2" fill="none" stroke="#f00" stroke-width="2.3" stroke-linejoin="round" stroke-linecap="round"/>
<polyline points="224.2,400 225.2,404.5 226.5,407.3 230.2,410.9 234.8,413.7 238.4,414.6 242.1,415.5" fill="none" stroke="#f00" stroke-width="1.2" stroke-linejoin="round" stroke-linecap="round"/>
<line x1="227.4" y1="406.68" x2="227.4" y2="409.68" stroke="#e33" stroke-width="0.7"/>
<line x1="231.1" y1="409.95" x2="231.1" y2="412.95" stroke="#e33" stroke-width="0.7"/>
<line x1="233.9" y1="411.65" x2="233.9" y2="414.65" stroke="#e33" stroke-width="0.7"/>
<line x1="236.6" y1="412.65" x2="236.6" y2="415.65" stroke="#e33" stroke-width="0.7"/>
<line x1="239.3" y1="413.32" x2="239.3" y2="416.32" stroke="#e33" stroke-width="0.7"/>
<line x1="243.9" y1="416.8" x2="243.9" y2="419.8" stroke="#e33" stroke-width="0.7"/>
<line x1="245.7" y1="416.8" x2="245.7" y2="419.8" stroke="#e33" stroke-width="0.7"/>
<line x1="248.5" y1="416.8" x2="248.5" y2="419.8" stroke="#e33" stroke-width="0.7"/>
<line x1="251.2" y1="416.8" x2="251.2" y2="419.8" stroke="#e33" stroke-width="0.7"/>
<line x1="256.7" y1="423.2" x2="256.7" y2="426.2" stroke="#e33" stroke-width="0.7"/>
<line x1="258.6" y1="423.2" x2="258.6" y2="426.2" stroke="#e33" stroke-width="0.7"/>
<line x1="260" y1="423.2" x2="260" y2="426.2" stroke="#e33" stroke-width="0.7"/>
<line x1="263" y1="423.2" x2="263" y2="426.2" stroke="#e33" stroke-width="0.7"/>
<line x1="267" y1="423.2" x2="267" y2="426.2" stroke="#e33" stroke-width="0.7"/>
<line x1="292.9" y1="462.1" x2="292.9" y2="465.1" stroke="#e33" stroke-width="0.7"/>
<line x1="392.5" y1="18.4" x2="392.5" y2="142.4" stroke="#e6e6e6" stroke-width="0.75"/>
<line x1="391.5" y1="142.4" x2="516" y2="142.4" stroke="#e6e6e6" stroke-width="0.75"/>
<line x1="404.85" y1="18.4" x2="404.85" y2="142.4" stroke="#e6e6e6" stroke-width="0.6"/>
<line x1="391.5" y1="130.1" x2="516" y2="130.1" stroke="#e6e6e6" stroke-width="0.6"/>
<line x1="417.2" y1="18.4" x2="417.2" y2="142.4" stroke="#e6e6e6" stroke-width="0.75"/>
<line x1="391.5" y1="117.8" x2="516" y2="117.8" stroke="#e6e6e6" stroke-width="0.75"/>
<line x1="429.55" y1="18.4" x2="429.55" y2="142.4" stroke="#e6e6e6" stroke-width="0.6"/>
<line x1="391.5" y1="105.5" x2="516" y2="105.5" stroke="#e6e6e6" stroke-width="0.6"/>
<line x1="441.9" y1="18.4" x2="441.9" y2="142.4" stroke="#e6e6e6" stroke-width="0.75"/>
<line x1="391.5" y1="93.2" x2="516" y2="93.2" stroke="#e6e6e6" stroke-width="0.75"/>
<line x1="454.25" y1="18.4" x2="454.25" y2="142.4" stroke="#e6e6e6" stroke-width="0.6"/>
<line x1="391.5" y1="80.9" x2="516" y2="80.9" stroke="#e6e6e6" stroke-width="0.6"/>
<line x1="466.6" y1="18.4" x2="466.6" y2="142.4" stroke="#e6e6e6" stroke-width="0.75"/>
<line x1="391.5" y1="68.6" x2="516" y2="68.6" stroke="#e6e6e6" stroke-width="0.75"/>
<line x1="478.95" y1="18.4" x2="478.95" y2="142.4" stroke="#e6e6e6" stroke-width="0.6"/>
<line x1="391.5" y1="56.3" x2="516" y2="56.3" stroke="#e6e6e6" stroke-width="0.6"/>
<line x1="491.3" y1="18.4" x2="491.3" y2="142.4" stroke="#e6e6e6" stroke-width="0.75"/>
<line x1="391.5" y1="44" x2="516" y2="44" stroke="#e6e6e6" stroke-width="0.75"/>
<line x1="503.65" y1="18.4" x2="503.65" y2="142.4" stroke="#e6e6e6" stroke-width="0.6"/>
<line x1="391.5" y1="31.7" x2="516" y2="31.7" stroke="#e6e6e6" stroke-width="0.6"/>
<line x1="516" y1="18.4" x2="516" y2="142.4" stroke="#e6e6e6" stroke-width="0.75"/>
<line x1="391.5" y1="19.4" x2="516" y2="19.4" stroke="#e6e6e6" stroke-width="0.75"/>
<line x1="392.5" y1="142.4" x2="516" y2="19.4" stroke="#bdbdbd" stroke-width="1.05"/>
<polyline points="392.5,142.4 392.5,138.3 397.2,138.3 397.2,99.9 401.4,99.9 401.4,85.2 405.9,85.2 405.9,80.8 410.6,80.8 410.6,59.8 414.6,59.8 414.6,44.2 419.2,44.2 419.2,40 423.5,40 423.5,35.5 432.2,35.5 432.2,33.6 436.7,33.6 436.7,30.6 442,30.6 442,29.1 445.7,29.1 445.7,28.1 449.6,28.1 449.6,26.7 454.3,26.7 454.3,25.3 459,25.3 459,24.6 463.6,24.6 463.6,23.4 472,23.4 472,21.9 480.3,21.9 480.3,20.6 484.4,20.6 484.4,20 515.5,20 516,19.4" fill="none" stroke="#52B5C2" stroke-width="1.05" stroke-linejoin="round" />
<rect x="391.5" y="18.4" width="124.5" height="124" fill="none" stroke="#383838" stroke-width="1"/>
<line x1="389.2" y1="142.4" x2="391.5" y2="142.4" stroke="#333" stroke-width="0.7"/>
<line x1="392.5" y1="142.4" x2="392.5" y2="144.7" stroke="#333" stroke-width="0.7"/>
<text x="386.3" y="144.69" font-size="6.4" text-anchor="end" fill="#4d4d4d" stroke="#4d4d4d" stroke-width="0.14">0.0</text>
<line x1="389.2" y1="117.8" x2="391.5" y2="117.8" stroke="#333" stroke-width="0.7"/>
<line x1="417.2" y1="142.4" x2="417.2" y2="144.7" stroke="#333" stroke-width="0.7"/>
<text x="386.3" y="120.09" font-size="6.4" text-anchor="end" fill="#4d4d4d" stroke="#4d4d4d" stroke-width="0.14">0.2</text>
<line x1="389.2" y1="93.2" x2="391.5" y2="93.2" stroke="#333" stroke-width="0.7"/>
<line x1="441.9" y1="142.4" x2="441.9" y2="144.7" stroke="#333" stroke-width="0.7"/>
<text x="386.3" y="95.49" font-size="6.4" text-anchor="end" fill="#4d4d4d" stroke="#4d4d4d" stroke-width="0.14">0.4</text>
<line x1="389.2" y1="68.6" x2="391.5" y2="68.6" stroke="#333" stroke-width="0.7"/>
<line x1="466.6" y1="142.4" x2="466.6" y2="144.7" stroke="#333" stroke-width="0.7"/>
<text x="386.3" y="70.89" font-size="6.4" text-anchor="end" fill="#4d4d4d" stroke="#4d4d4d" stroke-width="0.14">0.6</text>
<line x1="389.2" y1="44" x2="391.5" y2="44" stroke="#333" stroke-width="0.7"/>
<line x1="491.3" y1="142.4" x2="491.3" y2="144.7" stroke="#333" stroke-width="0.7"/>
<text x="386.3" y="46.29" font-size="6.4" text-anchor="end" fill="#4d4d4d" stroke="#4d4d4d" stroke-width="0.14">0.8</text>
<line x1="389.2" y1="19.4" x2="391.5" y2="19.4" stroke="#333" stroke-width="0.7"/>
<line x1="516" y1="142.4" x2="516" y2="144.7" stroke="#333" stroke-width="0.7"/>
<text x="386.3" y="21.69" font-size="6.4" text-anchor="end" fill="#4d4d4d" stroke="#4d4d4d" stroke-width="0.14">1.0</text>
<text x="392.5" y="152.46" font-size="6.3" text-anchor="middle" fill="#4d4d4d" stroke="#4d4d4d" stroke-width="0.14">0.0</text>
<text x="417.2" y="152.46" font-size="6.3" text-anchor="middle" fill="#4d4d4d" stroke="#4d4d4d" stroke-width="0.14">0.2</text>
<text x="441.9" y="152.46" font-size="6.3" text-anchor="middle" fill="#4d4d4d" stroke="#4d4d4d" stroke-width="0.14">0.4</text>
<text x="466.6" y="152.46" font-size="6.3" text-anchor="middle" fill="#4d4d4d" stroke="#4d4d4d" stroke-width="0.14">0.6</text>
<text x="491.3" y="152.46" font-size="6.3" text-anchor="middle" fill="#4d4d4d" stroke="#4d4d4d" stroke-width="0.14">0.8</text>
<text x="516" y="152.46" font-size="6.3" text-anchor="middle" fill="#4d4d4d" stroke="#4d4d4d" stroke-width="0.14">1.0</text>
<text x="449.4" y="162.93" font-size="6.5" text-anchor="middle" fill="#1a1a1a" stroke="#1a1a1a" stroke-width="0.14">1−Specificity (FPR)</text>
<text transform="translate(371.83 83.6) rotate(-90)" font-size="6.5" text-anchor="middle" fill="#1a1a1a" stroke="#1a1a1a" stroke-width="0.14">Sensitivity (TPR)</text>
<text x="452.5" y="14.93" font-size="6.5" text-anchor="middle" fill="#1a1a1a" stroke="#1a1a1a" stroke-width="0.14">BLCA</text>
<text x="515.1" y="123.13" font-size="6.5" text-anchor="end" fill="#333" stroke="#333" stroke-width="0.14">BAZ2B</text>
<text x="515.1" y="130.73" font-size="6.5" text-anchor="end" fill="#333" stroke="#333" stroke-width="0.14">AUC: 0.847</text>
<text x="515.1" y="139.43" font-size="6.5" text-anchor="end" fill="#333" stroke="#333" stroke-width="0.14">CI: 0.758−0.936</text>
<line x1="556.5" y1="18.4" x2="556.5" y2="142.4" stroke="#e6e6e6" stroke-width="0.75"/>
<line x1="555.5" y1="142.4" x2="680" y2="142.4" stroke="#e6e6e6" stroke-width="0.75"/>
<line x1="568.85" y1="18.4" x2="568.85" y2="142.4" stroke="#e6e6e6" stroke-width="0.6"/>
<line x1="555.5" y1="130.1" x2="680" y2="130.1" stroke="#e6e6e6" stroke-width="0.6"/>
<line x1="581.2" y1="18.4" x2="581.2" y2="142.4" stroke="#e6e6e6" stroke-width="0.75"/>
<line x1="555.5" y1="117.8" x2="680" y2="117.8" stroke="#e6e6e6" stroke-width="0.75"/>
<line x1="593.55" y1="18.4" x2="593.55" y2="142.4" stroke="#e6e6e6" stroke-width="0.6"/>
<line x1="555.5" y1="105.5" x2="680" y2="105.5" stroke="#e6e6e6" stroke-width="0.6"/>
<line x1="605.9" y1="18.4" x2="605.9" y2="142.4" stroke="#e6e6e6" stroke-width="0.75"/>
<line x1="555.5" y1="93.2" x2="680" y2="93.2" stroke="#e6e6e6" stroke-width="0.75"/>
<line x1="618.25" y1="18.4" x2="618.25" y2="142.4" stroke="#e6e6e6" stroke-width="0.6"/>
<line x1="555.5" y1="80.9" x2="680" y2="80.9" stroke="#e6e6e6" stroke-width="0.6"/>
<line x1="630.6" y1="18.4" x2="630.6" y2="142.4" stroke="#e6e6e6" stroke-width="0.75"/>
<line x1="555.5" y1="68.6" x2="680" y2="68.6" stroke="#e6e6e6" stroke-width="0.75"/>
<line x1="642.95" y1="18.4" x2="642.95" y2="142.4" stroke="#e6e6e6" stroke-width="0.6"/>
<line x1="555.5" y1="56.3" x2="680" y2="56.3" stroke="#e6e6e6" stroke-width="0.6"/>
<line x1="655.3" y1="18.4" x2="655.3" y2="142.4" stroke="#e6e6e6" stroke-width="0.75"/>
<line x1="555.5" y1="44" x2="680" y2="44" stroke="#e6e6e6" stroke-width="0.75"/>
<line x1="667.65" y1="18.4" x2="667.65" y2="142.4" stroke="#e6e6e6" stroke-width="0.6"/>
<line x1="555.5" y1="31.7" x2="680" y2="31.7" stroke="#e6e6e6" stroke-width="0.6"/>
<line x1="680" y1="18.4" x2="680" y2="142.4" stroke="#e6e6e6" stroke-width="0.75"/>
<line x1="555.5" y1="19.4" x2="680" y2="19.4" stroke="#e6e6e6" stroke-width="0.75"/>
<line x1="556.5" y1="142.4" x2="680" y2="19.4" stroke="#bdbdbd" stroke-width="1.05"/>
<polyline points="556.4,142.4 556.4,131.3 557.6,123 559.2,115.9 561.1,112.3 563.5,106.4 565.9,99.2 567.8,90.9 570.1,86.2 573,83.8 575.4,82.6 577.3,77.2 578.9,73.1 581.3,69.6 583.7,67.7 587.2,66.7 589.1,63.6 590.8,60.6 594.3,58.4 597.9,56.5 601.5,53.4 605,51.8 608.6,48.9 612.9,47 616.2,44.7 620.4,43.2 625.2,40.6 631.6,38 638,35.5 644.4,32.3 650.8,30.4 656,28.4 661.1,25.9 666.2,23.3 670,21.7 675.1,20.8 679.6,19.3" fill="none" stroke="#52B5C2" stroke-width="1.05" stroke-linejoin="round" />
<rect x="555.5" y="18.4" width="124.5" height="124" fill="none" stroke="#383838" stroke-width="1"/>
<line x1="553.2" y1="142.4" x2="555.5" y2="142.4" stroke="#333" stroke-width="0.7"/>
<line x1="556.5" y1="142.4" x2="556.5" y2="144.7" stroke="#333" stroke-width="0.7"/>
<text x="550.3" y="144.69" font-size="6.4" text-anchor="end" fill="#4d4d4d" stroke="#4d4d4d" stroke-width="0.14">0.0</text>
<line x1="553.2" y1="117.8" x2="555.5" y2="117.8" stroke="#333" stroke-width="0.7"/>
<line x1="581.2" y1="142.4" x2="581.2" y2="144.7" stroke="#333" stroke-width="0.7"/>
<text x="550.3" y="120.09" font-size="6.4" text-anchor="end" fill="#4d4d4d" stroke="#4d4d4d" stroke-width="0.14">0.2</text>
<line x1="553.2" y1="93.2" x2="555.5" y2="93.2" stroke="#333" stroke-width="0.7"/>
<line x1="605.9" y1="142.4" x2="605.9" y2="144.7" stroke="#333" stroke-width="0.7"/>
<text x="550.3" y="95.49" font-size="6.4" text-anchor="end" fill="#4d4d4d" stroke="#4d4d4d" stroke-width="0.14">0.4</text>
<line x1="553.2" y1="68.6" x2="555.5" y2="68.6" stroke="#333" stroke-width="0.7"/>
<line x1="630.6" y1="142.4" x2="630.6" y2="144.7" stroke="#333" stroke-width="0.7"/>
<text x="550.3" y="70.89" font-size="6.4" text-anchor="end" fill="#4d4d4d" stroke="#4d4d4d" stroke-width="0.14">0.6</text>
<line x1="553.2" y1="44" x2="555.5" y2="44" stroke="#333" stroke-width="0.7"/>
<line x1="655.3" y1="142.4" x2="655.3" y2="144.7" stroke="#333" stroke-width="0.7"/>
<text x="550.3" y="46.29" font-size="6.4" text-anchor="end" fill="#4d4d4d" stroke="#4d4d4d" stroke-width="0.14">0.8</text>
<line x1="553.2" y1="19.4" x2="555.5" y2="19.4" stroke="#333" stroke-width="0.7"/>
<line x1="680" y1="142.4" x2="680" y2="144.7" stroke="#333" stroke-width="0.7"/>
<text x="550.3" y="21.69" font-size="6.4" text-anchor="end" fill="#4d4d4d" stroke="#4d4d4d" stroke-width="0.14">1.0</text>
<text x="556.5" y="152.46" font-size="6.3" text-anchor="middle" fill="#4d4d4d" stroke="#4d4d4d" stroke-width="0.14">0.0</text>
<text x="581.2" y="152.46" font-size="6.3" text-anchor="middle" fill="#4d4d4d" stroke="#4d4d4d" stroke-width="0.14">0.2</text>
<text x="605.9" y="152.46" font-size="6.3" text-anchor="middle" fill="#4d4d4d" stroke="#4d4d4d" stroke-width="0.14">0.4</text>
<text x="630.6" y="152.46" font-size="6.3" text-anchor="middle" fill="#4d4d4d" stroke="#4d4d4d" stroke-width="0.14">0.6</text>
<text x="655.3" y="152.46" font-size="6.3" text-anchor="middle" fill="#4d4d4d" stroke="#4d4d4d" stroke-width="0.14">0.8</text>
<text x="680" y="152.46" font-size="6.3" text-anchor="middle" fill="#4d4d4d" stroke="#4d4d4d" stroke-width="0.14">1.0</text>
<text x="613.4" y="162.93" font-size="6.5" text-anchor="middle" fill="#1a1a1a" stroke="#1a1a1a" stroke-width="0.14">1−Specificity (FPR)</text>
<text transform="translate(535.83 83.6) rotate(-90)" font-size="6.5" text-anchor="middle" fill="#1a1a1a" stroke="#1a1a1a" stroke-width="0.14">Sensitivity (TPR)</text>
<text x="616.5" y="14.93" font-size="6.5" text-anchor="middle" fill="#1a1a1a" stroke="#1a1a1a" stroke-width="0.14">BRCA</text>
<text x="679.1" y="123.13" font-size="6.5" text-anchor="end" fill="#333" stroke="#333" stroke-width="0.14">BAZ2B</text>
<text x="679.1" y="130.73" font-size="6.5" text-anchor="end" fill="#333" stroke="#333" stroke-width="0.14">AUC: 0.741</text>
<text x="679.1" y="139.43" font-size="6.5" text-anchor="end" fill="#333" stroke="#333" stroke-width="0.14">CI: 0.712−0.771</text>
<line x1="391.2" y1="197.7" x2="391.2" y2="321.7" stroke="#e6e6e6" stroke-width="0.75"/>
<line x1="390.2" y1="321.7" x2="514.7" y2="321.7" stroke="#e6e6e6" stroke-width="0.75"/>
<line x1="403.55" y1="197.7" x2="403.55" y2="321.7" stroke="#e6e6e6" stroke-width="0.6"/>
<line x1="390.2" y1="309.4" x2="514.7" y2="309.4" stroke="#e6e6e6" stroke-width="0.6"/>
<line x1="415.9" y1="197.7" x2="415.9" y2="321.7" stroke="#e6e6e6" stroke-width="0.75"/>
<line x1="390.2" y1="297.1" x2="514.7" y2="297.1" stroke="#e6e6e6" stroke-width="0.75"/>
<line x1="428.25" y1="197.7" x2="428.25" y2="321.7" stroke="#e6e6e6" stroke-width="0.6"/>
<line x1="390.2" y1="284.8" x2="514.7" y2="284.8" stroke="#e6e6e6" stroke-width="0.6"/>
<line x1="440.6" y1="197.7" x2="440.6" y2="321.7" stroke="#e6e6e6" stroke-width="0.75"/>
<line x1="390.2" y1="272.5" x2="514.7" y2="272.5" stroke="#e6e6e6" stroke-width="0.75"/>
<line x1="452.95" y1="197.7" x2="452.95" y2="321.7" stroke="#e6e6e6" stroke-width="0.6"/>
<line x1="390.2" y1="260.2" x2="514.7" y2="260.2" stroke="#e6e6e6" stroke-width="0.6"/>
<line x1="465.3" y1="197.7" x2="465.3" y2="321.7" stroke="#e6e6e6" stroke-width="0.75"/>
<line x1="390.2" y1="247.9" x2="514.7" y2="247.9" stroke="#e6e6e6" stroke-width="0.75"/>
<line x1="477.65" y1="197.7" x2="477.65" y2="321.7" stroke="#e6e6e6" stroke-width="0.6"/>
<line x1="390.2" y1="235.6" x2="514.7" y2="235.6" stroke="#e6e6e6" stroke-width="0.6"/>
<line x1="490" y1="197.7" x2="490" y2="321.7" stroke="#e6e6e6" stroke-width="0.75"/>
<line x1="390.2" y1="223.3" x2="514.7" y2="223.3" stroke="#e6e6e6" stroke-width="0.75"/>
<line x1="502.35" y1="197.7" x2="502.35" y2="321.7" stroke="#e6e6e6" stroke-width="0.6"/>
<line x1="390.2" y1="211" x2="514.7" y2="211" stroke="#e6e6e6" stroke-width="0.6"/>
<line x1="514.7" y1="197.7" x2="514.7" y2="321.7" stroke="#e6e6e6" stroke-width="0.75"/>
<line x1="390.2" y1="198.7" x2="514.7" y2="198.7" stroke="#e6e6e6" stroke-width="0.75"/>
<line x1="391.2" y1="321.7" x2="514.7" y2="198.7" stroke="#bdbdbd" stroke-width="1.05"/>
<polyline points="391.4,321.7 393.4,321.7 393.4,320.1 395,320.1 395,318.6 397.3,318.6 397.3,317 398.9,317 398.9,316.2 400.4,316.2 400.4,313.1 402.2,313.1 402.2,305.3 404.3,305.3 404.3,302.6 405.1,302.6 405.1,301.4 406.7,301.4 406.7,299.1 408.2,299.1 408.2,294.4 409,294.4 409,293.7 412.1,293.7 412.1,289.8 412.9,289.8 412.9,286.7 414.4,286.7 414.4,282 415.2,282 415.2,279.7 416.6,279.7 416.6,277.3 420.7,277.3 420.7,274.2 423,274.2 423,270.3 425.3,270.3 425.3,268.8 426.1,268.8 426.1,266.4 428.4,266.4 428.4,258.7 430,258.7 430,257.1 433.1,257.1 433.1,254.8 440.1,254.8 440.1,251.7 449.4,251.7 449.4,249 454.9,249 454.9,244.9 456.6,244.9 456.6,243.3 458.8,243.3 458.8,240.5 461,240.5 461,238.3 463.7,238.3 463.7,235.6 465,235.6 465,232.9 473.6,232.9 473.6,227.4 475.2,227.4 475.2,226.8 477,226.8 477,224.4 485.1,224.4 485.1,220.8 487.3,220.8 487.3,218.4 489,218.4 489,215.8 491.6,215.8 491.6,214.2 492.9,214.2 492.9,211.5 495.8,211.5 495.8,210.4 501.6,210.4 501.6,202.1 509.2,202.1 509.2,199.6 513.1,199.6 513.1,198.8 514.3,198.5" fill="none" stroke="#52B5C2" stroke-width="1.05" stroke-linejoin="round" />
<rect x="390.2" y="197.7" width="124.5" height="124" fill="none" stroke="#383838" stroke-width="1"/>
<line x1="387.9" y1="321.7" x2="390.2" y2="321.7" stroke="#333" stroke-width="0.7"/>
<line x1="391.2" y1="321.7" x2="391.2" y2="324" stroke="#333" stroke-width="0.7"/>
<text x="385" y="323.99" font-size="6.4" text-anchor="end" fill="#4d4d4d" stroke="#4d4d4d" stroke-width="0.14">0.0</text>
<line x1="387.9" y1="297.1" x2="390.2" y2="297.1" stroke="#333" stroke-width="0.7"/>
<line x1="415.9" y1="321.7" x2="415.9" y2="324" stroke="#333" stroke-width="0.7"/>
<text x="385" y="299.39" font-size="6.4" text-anchor="end" fill="#4d4d4d" stroke="#4d4d4d" stroke-width="0.14">0.2</text>
<line x1="387.9" y1="272.5" x2="390.2" y2="272.5" stroke="#333" stroke-width="0.7"/>
<line x1="440.6" y1="321.7" x2="440.6" y2="324" stroke="#333" stroke-width="0.7"/>
<text x="385" y="274.79" font-size="6.4" text-anchor="end" fill="#4d4d4d" stroke="#4d4d4d" stroke-width="0.14">0.4</text>
<line x1="387.9" y1="247.9" x2="390.2" y2="247.9" stroke="#333" stroke-width="0.7"/>
<line x1="465.3" y1="321.7" x2="465.3" y2="324" stroke="#333" stroke-width="0.7"/>
<text x="385" y="250.19" font-size="6.4" text-anchor="end" fill="#4d4d4d" stroke="#4d4d4d" stroke-width="0.14">0.6</text>
<line x1="387.9" y1="223.3" x2="390.2" y2="223.3" stroke="#333" stroke-width="0.7"/>
<line x1="490" y1="321.7" x2="490" y2="324" stroke="#333" stroke-width="0.7"/>
<text x="385" y="225.59" font-size="6.4" text-anchor="end" fill="#4d4d4d" stroke="#4d4d4d" stroke-width="0.14">0.8</text>
<line x1="387.9" y1="198.7" x2="390.2" y2="198.7" stroke="#333" stroke-width="0.7"/>
<line x1="514.7" y1="321.7" x2="514.7" y2="324" stroke="#333" stroke-width="0.7"/>
<text x="385" y="200.99" font-size="6.4" text-anchor="end" fill="#4d4d4d" stroke="#4d4d4d" stroke-width="0.14">1.0</text>
<text x="391.2" y="344.12" font-size="6.2" text-anchor="middle" fill="#4d4d4d" stroke="#4d4d4d" stroke-width="0.14">0.0</text>
<text x="415.9" y="344.12" font-size="6.2" text-anchor="middle" fill="#4d4d4d" stroke="#4d4d4d" stroke-width="0.14">0.2</text>
<text x="440.6" y="344.12" font-size="6.2" text-anchor="middle" fill="#4d4d4d" stroke="#4d4d4d" stroke-width="0.14">0.4</text>
<text x="465.3" y="344.12" font-size="6.2" text-anchor="middle" fill="#4d4d4d" stroke="#4d4d4d" stroke-width="0.14">0.6</text>
<text x="490" y="332.32" font-size="6.2" text-anchor="middle" fill="#4d4d4d" stroke="#4d4d4d" stroke-width="0.14">0.8</text>
<text x="514.7" y="332.32" font-size="6.2" text-anchor="middle" fill="#4d4d4d" stroke="#4d4d4d" stroke-width="0.14">1.0</text>
<text x="448.1" y="354.63" font-size="6.5" text-anchor="middle" fill="#1a1a1a" stroke="#1a1a1a" stroke-width="0.14">1−Specificity (FPR)</text>
<text transform="translate(370.53 262.9) rotate(-90)" font-size="6.5" text-anchor="middle" fill="#1a1a1a" stroke="#1a1a1a" stroke-width="0.14">Sensitivity (TPR)</text>
<text x="451.2" y="194.23" font-size="6.5" text-anchor="middle" fill="#1a1a1a" stroke="#1a1a1a" stroke-width="0.14">HNSC</text>
<text x="513.8" y="302.43" font-size="6.5" text-anchor="end" fill="#333" stroke="#333" stroke-width="0.14">BAZ2B</text>
<text x="513.8" y="310.03" font-size="6.5" text-anchor="end" fill="#333" stroke="#333" stroke-width="0.14">AUC: 0.585</text>
<text x="513.8" y="318.73" font-size="6.5" text-anchor="end" fill="#333" stroke="#333" stroke-width="0.14">CI: 0.496−0.674</text>
<line x1="555.4" y1="197.7" x2="555.4" y2="321.7" stroke="#e6e6e6" stroke-width="0.75"/>
<line x1="554.4" y1="321.7" x2="678.9" y2="321.7" stroke="#e6e6e6" stroke-width="0.75"/>
<line x1="567.75" y1="197.7" x2="567.75" y2="321.7" stroke="#e6e6e6" stroke-width="0.6"/>
<line x1="554.4" y1="309.4" x2="678.9" y2="309.4" stroke="#e6e6e6" stroke-width="0.6"/>
<line x1="580.1" y1="197.7" x2="580.1" y2="321.7" stroke="#e6e6e6" stroke-width="0.75"/>
<line x1="554.4" y1="297.1" x2="678.9" y2="297.1" stroke="#e6e6e6" stroke-width="0.75"/>
<line x1="592.45" y1="197.7" x2="592.45" y2="321.7" stroke="#e6e6e6" stroke-width="0.6"/>
<line x1="554.4" y1="284.8" x2="678.9" y2="284.8" stroke="#e6e6e6" stroke-width="0.6"/>
<line x1="604.8" y1="197.7" x2="604.8" y2="321.7" stroke="#e6e6e6" stroke-width="0.75"/>
<line x1="554.4" y1="272.5" x2="678.9" y2="272.5" stroke="#e6e6e6" stroke-width="0.75"/>
<line x1="617.15" y1="197.7" x2="617.15" y2="321.7" stroke="#e6e6e6" stroke-width="0.6"/>
<line x1="554.4" y1="260.2" x2="678.9" y2="260.2" stroke="#e6e6e6" stroke-width="0.6"/>
<line x1="629.5" y1="197.7" x2="629.5" y2="321.7" stroke="#e6e6e6" stroke-width="0.75"/>
<line x1="554.4" y1="247.9" x2="678.9" y2="247.9" stroke="#e6e6e6" stroke-width="0.75"/>
<line x1="641.85" y1="197.7" x2="641.85" y2="321.7" stroke="#e6e6e6" stroke-width="0.6"/>
<line x1="554.4" y1="235.6" x2="678.9" y2="235.6" stroke="#e6e6e6" stroke-width="0.6"/>
<line x1="654.2" y1="197.7" x2="654.2" y2="321.7" stroke="#e6e6e6" stroke-width="0.75"/>
<line x1="554.4" y1="223.3" x2="678.9" y2="223.3" stroke="#e6e6e6" stroke-width="0.75"/>
<line x1="666.55" y1="197.7" x2="666.55" y2="321.7" stroke="#e6e6e6" stroke-width="0.6"/>
<line x1="554.4" y1="211" x2="678.9" y2="211" stroke="#e6e6e6" stroke-width="0.6"/>
<line x1="678.9" y1="197.7" x2="678.9" y2="321.7" stroke="#e6e6e6" stroke-width="0.75"/>
<line x1="554.4" y1="198.7" x2="678.9" y2="198.7" stroke="#e6e6e6" stroke-width="0.75"/>
<line x1="555.4" y1="321.7" x2="678.9" y2="198.7" stroke="#bdbdbd" stroke-width="1.05"/>
<polyline points="555.2,321.7 555.2,316 556.3,308.9 557.9,297 560.3,286.4 562.7,276.9 565.1,268.6 567.4,262.6 571,257.9 573.4,252 575.7,244.8 579.3,241.3 582.8,237.7 586.4,233 590,230.6 593.5,229.4 595.9,225.8 599.5,221.6 603,220.6 606.6,218 611.3,216.8 616.1,215.2 620.1,213.6 626.5,211 630.4,207.5 634.2,207.2 640.6,205.2 647,204.2 653.4,202.9 659.8,201.7 666.2,200.4 672.6,199.9 678,198.6" fill="none" stroke="#52B5C2" stroke-width="1.05" stroke-linejoin="round" />
<rect x="554.4" y="197.7" width="124.5" height="124" fill="none" stroke="#383838" stroke-width="1"/>
<line x1="552.1" y1="321.7" x2="554.4" y2="321.7" stroke="#333" stroke-width="0.7"/>
<line x1="555.4" y1="321.7" x2="555.4" y2="324" stroke="#333" stroke-width="0.7"/>
<text x="549.2" y="323.99" font-size="6.4" text-anchor="end" fill="#4d4d4d" stroke="#4d4d4d" stroke-width="0.14">0.0</text>
<line x1="552.1" y1="297.1" x2="554.4" y2="297.1" stroke="#333" stroke-width="0.7"/>
<line x1="580.1" y1="321.7" x2="580.1" y2="324" stroke="#333" stroke-width="0.7"/>
<text x="549.2" y="299.39" font-size="6.4" text-anchor="end" fill="#4d4d4d" stroke="#4d4d4d" stroke-width="0.14">0.2</text>
<line x1="552.1" y1="272.5" x2="554.4" y2="272.5" stroke="#333" stroke-width="0.7"/>
<line x1="604.8" y1="321.7" x2="604.8" y2="324" stroke="#333" stroke-width="0.7"/>
<text x="549.2" y="274.79" font-size="6.4" text-anchor="end" fill="#4d4d4d" stroke="#4d4d4d" stroke-width="0.14">0.4</text>
<line x1="552.1" y1="247.9" x2="554.4" y2="247.9" stroke="#333" stroke-width="0.7"/>
<line x1="629.5" y1="321.7" x2="629.5" y2="324" stroke="#333" stroke-width="0.7"/>
<text x="549.2" y="250.19" font-size="6.4" text-anchor="end" fill="#4d4d4d" stroke="#4d4d4d" stroke-width="0.14">0.6</text>
<line x1="552.1" y1="223.3" x2="554.4" y2="223.3" stroke="#333" stroke-width="0.7"/>
<line x1="654.2" y1="321.7" x2="654.2" y2="324" stroke="#333" stroke-width="0.7"/>
<text x="549.2" y="225.59" font-size="6.4" text-anchor="end" fill="#4d4d4d" stroke="#4d4d4d" stroke-width="0.14">0.8</text>
<line x1="552.1" y1="198.7" x2="554.4" y2="198.7" stroke="#333" stroke-width="0.7"/>
<line x1="678.9" y1="321.7" x2="678.9" y2="324" stroke="#333" stroke-width="0.7"/>
<text x="549.2" y="200.99" font-size="6.4" text-anchor="end" fill="#4d4d4d" stroke="#4d4d4d" stroke-width="0.14">1.0</text>
<text x="555.4" y="331.76" font-size="6.3" text-anchor="middle" fill="#4d4d4d" stroke="#4d4d4d" stroke-width="0.14">0.0</text>
<text x="580.1" y="331.76" font-size="6.3" text-anchor="middle" fill="#4d4d4d" stroke="#4d4d4d" stroke-width="0.14">0.2</text>
<text x="604.8" y="331.76" font-size="6.3" text-anchor="middle" fill="#4d4d4d" stroke="#4d4d4d" stroke-width="0.14">0.4</text>
<text x="629.5" y="331.76" font-size="6.3" text-anchor="middle" fill="#4d4d4d" stroke="#4d4d4d" stroke-width="0.14">0.6</text>
<text x="654.2" y="331.76" font-size="6.3" text-anchor="middle" fill="#4d4d4d" stroke="#4d4d4d" stroke-width="0.14">0.8</text>
<text x="678.9" y="331.76" font-size="6.3" text-anchor="middle" fill="#4d4d4d" stroke="#4d4d4d" stroke-width="0.14">1.0</text>
<text x="612.3" y="342.23" font-size="6.5" text-anchor="middle" fill="#1a1a1a" stroke="#1a1a1a" stroke-width="0.14">1−Specificity (FPR)</text>
<text transform="translate(534.73 262.9) rotate(-90)" font-size="6.5" text-anchor="middle" fill="#1a1a1a" stroke="#1a1a1a" stroke-width="0.14">Sensitivity (TPR)</text>
<text x="615.4" y="194.23" font-size="6.5" text-anchor="middle" fill="#1a1a1a" stroke="#1a1a1a" stroke-width="0.14">LUAD</text>
<text x="678" y="302.43" font-size="6.5" text-anchor="end" fill="#333" stroke="#333" stroke-width="0.14">BAZ2B</text>
<text x="678" y="310.03" font-size="6.5" text-anchor="end" fill="#333" stroke="#333" stroke-width="0.14">AUC: 0.800</text>
<text x="678" y="318.73" font-size="6.5" text-anchor="end" fill="#333" stroke="#333" stroke-width="0.14">CI: 0.770−0.830</text>
<line x1="392.5" y1="381.4" x2="392.5" y2="505.4" stroke="#e6e6e6" stroke-width="0.75"/>
<line x1="391.5" y1="505.4" x2="516" y2="505.4" stroke="#e6e6e6" stroke-width="0.75"/>
<line x1="404.85" y1="381.4" x2="404.85" y2="505.4" stroke="#e6e6e6" stroke-width="0.6"/>
<line x1="391.5" y1="493.1" x2="516" y2="493.1" stroke="#e6e6e6" stroke-width="0.6"/>
<line x1="417.2" y1="381.4" x2="417.2" y2="505.4" stroke="#e6e6e6" stroke-width="0.75"/>
<line x1="391.5" y1="480.8" x2="516" y2="480.8" stroke="#e6e6e6" stroke-width="0.75"/>
<line x1="429.55" y1="381.4" x2="429.55" y2="505.4" stroke="#e6e6e6" stroke-width="0.6"/>
<line x1="391.5" y1="468.5" x2="516" y2="468.5" stroke="#e6e6e6" stroke-width="0.6"/>
<line x1="441.9" y1="381.4" x2="441.9" y2="505.4" stroke="#e6e6e6" stroke-width="0.75"/>
<line x1="391.5" y1="456.2" x2="516" y2="456.2" stroke="#e6e6e6" stroke-width="0.75"/>
<line x1="454.25" y1="381.4" x2="454.25" y2="505.4" stroke="#e6e6e6" stroke-width="0.6"/>
<line x1="391.5" y1="443.9" x2="516" y2="443.9" stroke="#e6e6e6" stroke-width="0.6"/>
<line x1="466.6" y1="381.4" x2="466.6" y2="505.4" stroke="#e6e6e6" stroke-width="0.75"/>
<line x1="391.5" y1="431.6" x2="516" y2="431.6" stroke="#e6e6e6" stroke-width="0.75"/>
<line x1="478.95" y1="381.4" x2="478.95" y2="505.4" stroke="#e6e6e6" stroke-width="0.6"/>
<line x1="391.5" y1="419.3" x2="516" y2="419.3" stroke="#e6e6e6" stroke-width="0.6"/>
<line x1="491.3" y1="381.4" x2="491.3" y2="505.4" stroke="#e6e6e6" stroke-width="0.75"/>
<line x1="391.5" y1="407" x2="516" y2="407" stroke="#e6e6e6" stroke-width="0.75"/>
<line x1="503.65" y1="381.4" x2="503.65" y2="505.4" stroke="#e6e6e6" stroke-width="0.6"/>
<line x1="391.5" y1="394.7" x2="516" y2="394.7" stroke="#e6e6e6" stroke-width="0.6"/>
<line x1="516" y1="381.4" x2="516" y2="505.4" stroke="#e6e6e6" stroke-width="0.75"/>
<line x1="391.5" y1="382.4" x2="516" y2="382.4" stroke="#e6e6e6" stroke-width="0.75"/>
<line x1="392.5" y1="505.4" x2="516" y2="382.4" stroke="#bdbdbd" stroke-width="1.05"/>
<polyline points="392.6,505.3 392.6,503.9 393.7,498.7 394.9,491.5 395.6,479.7 397.3,476.1 399.7,472.5 400.9,471.4 402.1,465.4 403.7,460.7 406.1,454.8 409.2,452.4 412.7,448.8 415.1,444.1 418.7,440.5 422.2,438.1 425.8,434.1 429.3,431.7 432.9,429.8 436.5,427.5 440,426.3 444.8,425.6 447.1,422.7 450.7,420.8 452.6,420.2 457.7,419.2 462.8,418.7 465.4,417.4 469.2,416.4 475.6,414.9 478.2,412.8 481.4,409.4 483.3,407.7 485.2,407.4 486.5,404.9 489.7,403.6 493.5,402.3 496.7,400.8 499.3,399.8 501.8,398.5 505,394.6 508.9,394 511.4,392.7 513.3,390.8 514.6,388.2 515.3,385 515.9,382.2" fill="none" stroke="#52B5C2" stroke-width="1.05" stroke-linejoin="round" />
<rect x="391.5" y="381.4" width="124.5" height="124" fill="none" stroke="#383838" stroke-width="1"/>
<line x1="389.2" y1="505.4" x2="391.5" y2="505.4" stroke="#333" stroke-width="0.7"/>
<line x1="392.5" y1="505.4" x2="392.5" y2="507.7" stroke="#333" stroke-width="0.7"/>
<text x="386.3" y="507.69" font-size="6.4" text-anchor="end" fill="#4d4d4d" stroke="#4d4d4d" stroke-width="0.14">0.0</text>
<line x1="389.2" y1="480.8" x2="391.5" y2="480.8" stroke="#333" stroke-width="0.7"/>
<line x1="417.2" y1="505.4" x2="417.2" y2="507.7" stroke="#333" stroke-width="0.7"/>
<text x="386.3" y="483.09" font-size="6.4" text-anchor="end" fill="#4d4d4d" stroke="#4d4d4d" stroke-width="0.14">0.2</text>
<line x1="389.2" y1="456.2" x2="391.5" y2="456.2" stroke="#333" stroke-width="0.7"/>
<line x1="441.9" y1="505.4" x2="441.9" y2="507.7" stroke="#333" stroke-width="0.7"/>
<text x="386.3" y="458.49" font-size="6.4" text-anchor="end" fill="#4d4d4d" stroke="#4d4d4d" stroke-width="0.14">0.4</text>
<line x1="389.2" y1="431.6" x2="391.5" y2="431.6" stroke="#333" stroke-width="0.7"/>
<line x1="466.6" y1="505.4" x2="466.6" y2="507.7" stroke="#333" stroke-width="0.7"/>
<text x="386.3" y="433.89" font-size="6.4" text-anchor="end" fill="#4d4d4d" stroke="#4d4d4d" stroke-width="0.14">0.6</text>
<line x1="389.2" y1="407" x2="391.5" y2="407" stroke="#333" stroke-width="0.7"/>
<line x1="491.3" y1="505.4" x2="491.3" y2="507.7" stroke="#333" stroke-width="0.7"/>
<text x="386.3" y="409.29" font-size="6.4" text-anchor="end" fill="#4d4d4d" stroke="#4d4d4d" stroke-width="0.14">0.8</text>
<line x1="389.2" y1="382.4" x2="391.5" y2="382.4" stroke="#333" stroke-width="0.7"/>
<line x1="516" y1="505.4" x2="516" y2="507.7" stroke="#333" stroke-width="0.7"/>
<text x="386.3" y="384.69" font-size="6.4" text-anchor="end" fill="#4d4d4d" stroke="#4d4d4d" stroke-width="0.14">1.0</text>
<text x="392.5" y="515.46" font-size="6.3" text-anchor="middle" fill="#4d4d4d" stroke="#4d4d4d" stroke-width="0.14">0.0</text>
<text x="417.2" y="515.46" font-size="6.3" text-anchor="middle" fill="#4d4d4d" stroke="#4d4d4d" stroke-width="0.14">0.2</text>
<text x="441.9" y="515.46" font-size="6.3" text-anchor="middle" fill="#4d4d4d" stroke="#4d4d4d" stroke-width="0.14">0.4</text>
<text x="466.6" y="515.46" font-size="6.3" text-anchor="middle" fill="#4d4d4d" stroke="#4d4d4d" stroke-width="0.14">0.6</text>
<text x="491.3" y="515.46" font-size="6.3" text-anchor="middle" fill="#4d4d4d" stroke="#4d4d4d" stroke-width="0.14">0.8</text>
<text x="516" y="515.46" font-size="6.3" text-anchor="middle" fill="#4d4d4d" stroke="#4d4d4d" stroke-width="0.14">1.0</text>
<text x="449.4" y="525.93" font-size="6.5" text-anchor="middle" fill="#1a1a1a" stroke="#1a1a1a" stroke-width="0.14">1−Specificity (FPR)</text>
<text transform="translate(371.83 446.6) rotate(-90)" font-size="6.5" text-anchor="middle" fill="#1a1a1a" stroke="#1a1a1a" stroke-width="0.14">Sensitivity (TPR)</text>
<text x="452.5" y="377.93" font-size="6.5" text-anchor="middle" fill="#1a1a1a" stroke="#1a1a1a" stroke-width="0.14">THCA</text>
<text x="515.1" y="486.13" font-size="6.5" text-anchor="end" fill="#333" stroke="#333" stroke-width="0.14">BAZ2B</text>
<text x="515.1" y="493.73" font-size="6.5" text-anchor="end" fill="#333" stroke="#333" stroke-width="0.14">AUC: 0.650</text>
<text x="515.1" y="502.43" font-size="6.5" text-anchor="end" fill="#333" stroke="#333" stroke-width="0.14">CI: 0.613−0.686</text>
<line x1="556.5" y1="381.4" x2="556.5" y2="505.4" stroke="#e6e6e6" stroke-width="0.75"/>
<line x1="555.5" y1="505.4" x2="680" y2="505.4" stroke="#e6e6e6" stroke-width="0.75"/>
<line x1="568.85" y1="381.4" x2="568.85" y2="505.4" stroke="#e6e6e6" stroke-width="0.6"/>
<line x1="555.5" y1="493.1" x2="680" y2="493.1" stroke="#e6e6e6" stroke-width="0.6"/>
<line x1="581.2" y1="381.4" x2="581.2" y2="505.4" stroke="#e6e6e6" stroke-width="0.75"/>
<line x1="555.5" y1="480.8" x2="680" y2="480.8" stroke="#e6e6e6" stroke-width="0.75"/>
<line x1="593.55" y1="381.4" x2="593.55" y2="505.4" stroke="#e6e6e6" stroke-width="0.6"/>
<line x1="555.5" y1="468.5" x2="680" y2="468.5" stroke="#e6e6e6" stroke-width="0.6"/>
<line x1="605.9" y1="381.4" x2="605.9" y2="505.4" stroke="#e6e6e6" stroke-width="0.75"/>
<line x1="555.5" y1="456.2" x2="680" y2="456.2" stroke="#e6e6e6" stroke-width="0.75"/>
<line x1="618.25" y1="381.4" x2="618.25" y2="505.4" stroke="#e6e6e6" stroke-width="0.6"/>
<line x1="555.5" y1="443.9" x2="680" y2="443.9" stroke="#e6e6e6" stroke-width="0.6"/>
<line x1="630.6" y1="381.4" x2="630.6" y2="505.4" stroke="#e6e6e6" stroke-width="0.75"/>
<line x1="555.5" y1="431.6" x2="680" y2="431.6" stroke="#e6e6e6" stroke-width="0.75"/>
<line x1="642.95" y1="381.4" x2="642.95" y2="505.4" stroke="#e6e6e6" stroke-width="0.6"/>
<line x1="555.5" y1="419.3" x2="680" y2="419.3" stroke="#e6e6e6" stroke-width="0.6"/>
<line x1="655.3" y1="381.4" x2="655.3" y2="505.4" stroke="#e6e6e6" stroke-width="0.75"/>
<line x1="555.5" y1="407" x2="680" y2="407" stroke="#e6e6e6" stroke-width="0.75"/>
<line x1="667.65" y1="381.4" x2="667.65" y2="505.4" stroke="#e6e6e6" stroke-width="0.6"/>
<line x1="555.5" y1="394.7" x2="680" y2="394.7" stroke="#e6e6e6" stroke-width="0.6"/>
<line x1="680" y1="381.4" x2="680" y2="505.4" stroke="#e6e6e6" stroke-width="0.75"/>
<line x1="555.5" y1="382.4" x2="680" y2="382.4" stroke="#e6e6e6" stroke-width="0.75"/>
<line x1="556.5" y1="505.4" x2="680" y2="382.4" stroke="#bdbdbd" stroke-width="1.05"/>
<polyline points="556.6,505.4 556.6,477.7 557.7,477.7 557.7,426.6 561.3,426.6 561.3,423 562.5,421.9 562.8,416 566,416 567.2,412.4 569.6,411.2 570.8,406.5 573.2,401.7 574.8,399.4 576.7,395.8 579.1,393.4 581.5,391.1 583.8,389.9 588.6,388.7 591,387.5 600.5,387 604,385.8 606.4,384.9 611.2,384.6 649.6,383.9 664.5,383.4 679.4,382.2" fill="none" stroke="#52B5C2" stroke-width="1.05" stroke-linejoin="round" />
<rect x="555.5" y="381.4" width="124.5" height="124" fill="none" stroke="#383838" stroke-width="1"/>
<line x1="553.2" y1="505.4" x2="555.5" y2="505.4" stroke="#333" stroke-width="0.7"/>
<line x1="556.5" y1="505.4" x2="556.5" y2="507.7" stroke="#333" stroke-width="0.7"/>
<text x="550.3" y="507.69" font-size="6.4" text-anchor="end" fill="#4d4d4d" stroke="#4d4d4d" stroke-width="0.14">0.0</text>
<line x1="553.2" y1="480.8" x2="555.5" y2="480.8" stroke="#333" stroke-width="0.7"/>
<line x1="581.2" y1="505.4" x2="581.2" y2="507.7" stroke="#333" stroke-width="0.7"/>
<text x="550.3" y="483.09" font-size="6.4" text-anchor="end" fill="#4d4d4d" stroke="#4d4d4d" stroke-width="0.14">0.2</text>
<line x1="553.2" y1="456.2" x2="555.5" y2="456.2" stroke="#333" stroke-width="0.7"/>
<line x1="605.9" y1="505.4" x2="605.9" y2="507.7" stroke="#333" stroke-width="0.7"/>
<text x="550.3" y="458.49" font-size="6.4" text-anchor="end" fill="#4d4d4d" stroke="#4d4d4d" stroke-width="0.14">0.4</text>
<line x1="553.2" y1="431.6" x2="555.5" y2="431.6" stroke="#333" stroke-width="0.7"/>
<line x1="630.6" y1="505.4" x2="630.6" y2="507.7" stroke="#333" stroke-width="0.7"/>
<text x="550.3" y="433.89" font-size="6.4" text-anchor="end" fill="#4d4d4d" stroke="#4d4d4d" stroke-width="0.14">0.6</text>
<line x1="553.2" y1="407" x2="555.5" y2="407" stroke="#333" stroke-width="0.7"/>
<line x1="655.3" y1="505.4" x2="655.3" y2="507.7" stroke="#333" stroke-width="0.7"/>
<text x="550.3" y="409.29" font-size="6.4" text-anchor="end" fill="#4d4d4d" stroke="#4d4d4d" stroke-width="0.14">0.8</text>
<line x1="553.2" y1="382.4" x2="555.5" y2="382.4" stroke="#333" stroke-width="0.7"/>
<line x1="680" y1="505.4" x2="680" y2="507.7" stroke="#333" stroke-width="0.7"/>
<text x="550.3" y="384.69" font-size="6.4" text-anchor="end" fill="#4d4d4d" stroke="#4d4d4d" stroke-width="0.14">1.0</text>
<text x="556.5" y="515.46" font-size="6.3" text-anchor="middle" fill="#4d4d4d" stroke="#4d4d4d" stroke-width="0.14">0.0</text>
<text x="581.2" y="515.46" font-size="6.3" text-anchor="middle" fill="#4d4d4d" stroke="#4d4d4d" stroke-width="0.14">0.2</text>
<text x="605.9" y="515.46" font-size="6.3" text-anchor="middle" fill="#4d4d4d" stroke="#4d4d4d" stroke-width="0.14">0.4</text>
<text x="630.6" y="515.46" font-size="6.3" text-anchor="middle" fill="#4d4d4d" stroke="#4d4d4d" stroke-width="0.14">0.6</text>
<text x="655.3" y="515.46" font-size="6.3" text-anchor="middle" fill="#4d4d4d" stroke="#4d4d4d" stroke-width="0.14">0.8</text>
<text x="680" y="515.46" font-size="6.3" text-anchor="middle" fill="#4d4d4d" stroke="#4d4d4d" stroke-width="0.14">1.0</text>
<text x="613.4" y="525.93" font-size="6.5" text-anchor="middle" fill="#1a1a1a" stroke="#1a1a1a" stroke-width="0.14">1−Specificity (FPR)</text>
<text transform="translate(535.83 446.6) rotate(-90)" font-size="6.5" text-anchor="middle" fill="#1a1a1a" stroke="#1a1a1a" stroke-width="0.14">Sensitivity (TPR)</text>
<text x="616.5" y="377.93" font-size="6.5" text-anchor="middle" fill="#1a1a1a" stroke="#1a1a1a" stroke-width="0.14">UCEC</text>
<text x="679.1" y="486.13" font-size="6.5" text-anchor="end" fill="#333" stroke="#333" stroke-width="0.14">BAZ2B</text>
<text x="679.1" y="493.73" font-size="6.5" text-anchor="end" fill="#333" stroke="#333" stroke-width="0.14">AUC: 0.932</text>
<text x="679.1" y="502.43" font-size="6.5" text-anchor="end" fill="#333" stroke="#333" stroke-width="0.14">CI: 0.902−0.961</text>
<text x="-0.3" y="6.38" font-size="7.2" fill="#111" stroke="#111" stroke-width="0.1">A</text>
<text x="364" y="6.95" font-size="7.4" fill="#222" stroke="#222" stroke-width="0.35">B</text>
</svg>
</body></html>
